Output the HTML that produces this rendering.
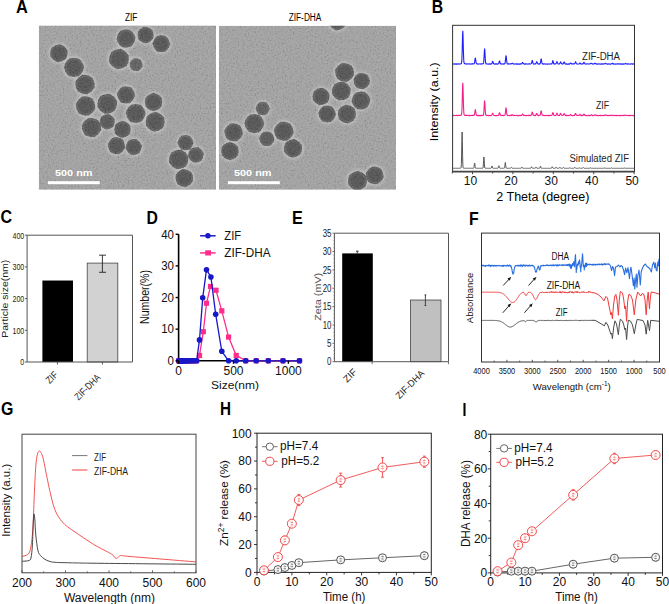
<!DOCTYPE html>
<html><head><meta charset="utf-8"><style>
html,body{margin:0;padding:0;background:#fff;}
svg{display:block;font-family:"Liberation Sans", sans-serif;}
</style></head><body>
<svg width="669" height="604" viewBox="0 0 669 604" style="font-family:"Liberation Sans", sans-serif">
<text x="16" y="12.6" font-size="17.5" text-anchor="start" font-weight="bold" fill="#000" textLength="11.8" lengthAdjust="spacingAndGlyphs" >A</text>
<text x="431.8" y="12.6" font-size="17.5" text-anchor="start" font-weight="bold" fill="#000" textLength="11.4" lengthAdjust="spacingAndGlyphs" >B</text>
<text x="0.6" y="222.8" font-size="17.5" text-anchor="start" font-weight="bold" fill="#000" textLength="11.6" lengthAdjust="spacingAndGlyphs" >C</text>
<text x="146.6" y="223.6" font-size="17.5" text-anchor="start" font-weight="bold" fill="#000" textLength="11.4" lengthAdjust="spacingAndGlyphs" >D</text>
<text x="291.9" y="223.7" font-size="17.5" text-anchor="start" font-weight="bold" fill="#000" textLength="10.8" lengthAdjust="spacingAndGlyphs" >E</text>
<text x="468.9" y="224.8" font-size="17.5" text-anchor="start" font-weight="bold" fill="#000" textLength="9.7" lengthAdjust="spacingAndGlyphs" >F</text>
<text x="1" y="415.3" font-size="17.5" text-anchor="start" font-weight="bold" fill="#000" textLength="12.4" lengthAdjust="spacingAndGlyphs" >G</text>
<text x="220" y="415" font-size="17.5" text-anchor="start" font-weight="bold" fill="#000" textLength="11" lengthAdjust="spacingAndGlyphs" >H</text>
<text x="462.6" y="416.1" font-size="17.5" text-anchor="start" font-weight="bold" fill="#000" textLength="3.9" lengthAdjust="spacingAndGlyphs" >I</text>
<defs>
<filter id="noise" x="0" y="0" width="100%" height="100%"><feTurbulence type="fractalNoise" baseFrequency="0.6" numOctaves="2" seed="3" result="t"/><feGaussianBlur stdDeviation="0.35"/><feColorMatrix type="matrix" values="2 0 0 0 -0.5  2 0 0 0 -0.5  2 0 0 0 -0.5  0 0 0 0 1"/></filter>
<filter id="soft" x="-30%" y="-30%" width="160%" height="160%"><feGaussianBlur stdDeviation="0.75"/></filter>
<filter id="halo" x="-50%" y="-50%" width="200%" height="200%"><feGaussianBlur stdDeviation="1.6"/></filter>
<radialGradient id="pg"><stop offset="0" stop-color="#4a4a4a"/><stop offset="0.7" stop-color="#555555"/><stop offset="1" stop-color="#6c6c6c"/></radialGradient>
<clipPath id="cl"><rect x="38.8" y="25.4" width="177.2" height="164.4"/></clipPath>
<clipPath id="cr"><rect x="218.8" y="25.8" width="177.2" height="164"/></clipPath>
</defs>
<g clip-path="url(#cl)">
<rect x="38.8" y="25.4" width="177.2" height="164.4" fill="#9d9d9d" stroke="none" stroke-width="1" />
<g filter="url(#halo)">
<circle cx="58.9" cy="53.2" r="10.3" fill="#bcbcbc"/>
<circle cx="74" cy="67.4" r="11.3" fill="#bcbcbc"/>
<circle cx="85" cy="84.5" r="11.3" fill="#bcbcbc"/>
<circle cx="85.6" cy="106" r="11.3" fill="#bcbcbc"/>
<circle cx="107.2" cy="103.8" r="11.5" fill="#bcbcbc"/>
<circle cx="119" cy="59" r="11.600000000000001" fill="#bcbcbc"/>
<circle cx="126" cy="38.5" r="10.8" fill="#bcbcbc"/>
<circle cx="126" cy="94.9" r="10.3" fill="#bcbcbc"/>
<circle cx="145.6" cy="35" r="9.600000000000001" fill="#bcbcbc"/>
<circle cx="161.3" cy="43.8" r="10.100000000000001" fill="#bcbcbc"/>
<circle cx="136.1" cy="64.7" r="7.8999999999999995" fill="#bcbcbc"/>
<circle cx="153.6" cy="102" r="10.3" fill="#bcbcbc"/>
<circle cx="135.7" cy="113.5" r="11.200000000000001" fill="#bcbcbc"/>
<circle cx="91.5" cy="127.6" r="11.200000000000001" fill="#bcbcbc"/>
<circle cx="107.2" cy="121.8" r="9.1" fill="#bcbcbc"/>
<circle cx="122.5" cy="129.4" r="9.8" fill="#bcbcbc"/>
<circle cx="116.5" cy="145.7" r="10.100000000000001" fill="#bcbcbc"/>
<circle cx="155.2" cy="121.8" r="11.200000000000001" fill="#bcbcbc"/>
<circle cx="133.7" cy="147" r="9.5" fill="#bcbcbc"/>
<circle cx="185.5" cy="142.7" r="9.200000000000001" fill="#bcbcbc"/>
<circle cx="195.9" cy="154.9" r="9.200000000000001" fill="#bcbcbc"/>
<circle cx="178.7" cy="159.4" r="11.3" fill="#bcbcbc"/>
<circle cx="184.3" cy="178" r="10.4" fill="#bcbcbc"/>
</g><g filter="url(#soft)">
<circle cx="58.9" cy="53.2" r="8.69" fill="#606060"/>
<path d="M65.89,58.73 L57.60,62.02 L50.62,56.48 L51.91,47.67 L60.20,44.38 L67.18,49.92Z" fill="#606060" stroke="#606060" stroke-width="0.4" stroke-linejoin="round"/>
<circle cx="58.9" cy="53.2" r="6.48" fill="#525252" opacity="0.8"/>
<circle cx="74" cy="67.4" r="9.65" fill="#606060"/>
<path d="M83.90,67.66 L78.72,76.10 L68.83,75.84 L64.10,67.14 L69.28,58.70 L79.17,58.96Z" fill="#606060" stroke="#606060" stroke-width="0.4" stroke-linejoin="round"/>
<circle cx="74" cy="67.4" r="7.20" fill="#525252" opacity="0.8"/>
<circle cx="85" cy="84.5" r="9.65" fill="#606060"/>
<path d="M94.49,87.31 L87.31,94.13 L77.82,91.31 L75.51,81.69 L82.69,74.87 L92.18,77.69Z" fill="#606060" stroke="#606060" stroke-width="0.4" stroke-linejoin="round"/>
<circle cx="85" cy="84.5" r="7.20" fill="#525252" opacity="0.8"/>
<circle cx="85.6" cy="106" r="9.65" fill="#606060"/>
<path d="M95.23,108.29 L88.43,115.49 L78.80,113.19 L75.97,103.71 L82.77,96.51 L92.40,98.81Z" fill="#606060" stroke="#606060" stroke-width="0.4" stroke-linejoin="round"/>
<circle cx="85.6" cy="106" r="7.20" fill="#525252" opacity="0.8"/>
<circle cx="107.2" cy="103.8" r="9.84" fill="#606060"/>
<path d="M114.44,110.84 L104.72,113.59 L97.48,106.55 L99.96,96.76 L109.68,94.01 L116.92,101.05Z" fill="#606060" stroke="#606060" stroke-width="0.4" stroke-linejoin="round"/>
<circle cx="107.2" cy="103.8" r="7.34" fill="#525252" opacity="0.8"/>
<circle cx="119" cy="59" r="9.94" fill="#606060"/>
<path d="M126.74,65.64 L117.12,69.02 L109.38,62.39 L111.26,52.36 L120.88,48.98 L128.62,55.61Z" fill="#606060" stroke="#606060" stroke-width="0.4" stroke-linejoin="round"/>
<circle cx="119" cy="59" r="7.42" fill="#525252" opacity="0.8"/>
<circle cx="126" cy="38.5" r="9.17" fill="#606060"/>
<path d="M131.59,46.06 L122.25,47.12 L116.65,39.56 L120.41,30.94 L129.75,29.88 L135.35,37.44Z" fill="#606060" stroke="#606060" stroke-width="0.4" stroke-linejoin="round"/>
<circle cx="126" cy="38.5" r="6.84" fill="#525252" opacity="0.8"/>
<circle cx="126" cy="94.9" r="8.69" fill="#606060"/>
<path d="M134.87,95.71 L129.74,102.99 L120.86,102.18 L117.13,94.09 L122.26,86.81 L131.14,87.62Z" fill="#606060" stroke="#606060" stroke-width="0.4" stroke-linejoin="round"/>
<circle cx="126" cy="94.9" r="6.48" fill="#525252" opacity="0.8"/>
<circle cx="145.6" cy="35" r="8.01" fill="#606060"/>
<path d="M153.03,38.51 L146.27,43.19 L138.84,39.68 L138.17,31.49 L144.93,26.81 L152.36,30.32Z" fill="#606060" stroke="#606060" stroke-width="0.4" stroke-linejoin="round"/>
<circle cx="145.6" cy="35" r="5.98" fill="#535353" opacity="0.8"/>
<circle cx="161.3" cy="43.8" r="8.49" fill="#606060"/>
<path d="M170.01,44.07 L165.42,51.48 L156.71,51.21 L152.59,43.53 L157.18,36.12 L165.89,36.39Z" fill="#606060" stroke="#606060" stroke-width="0.4" stroke-linejoin="round"/>
<circle cx="161.3" cy="43.8" r="6.34" fill="#525252" opacity="0.8"/>
<circle cx="136.1" cy="64.7" r="6.37" fill="#676767"/>
<path d="M142.46,66.18 L138.00,70.95 L131.63,69.47 L129.74,63.22 L134.20,58.45 L140.57,59.93Z" fill="#676767" stroke="#676767" stroke-width="0.4" stroke-linejoin="round"/>
<circle cx="136.1" cy="64.7" r="4.75" fill="#5d5d5d" opacity="0.8"/>
<circle cx="153.6" cy="102" r="8.69" fill="#606060"/>
<path d="M161.29,106.50 L153.55,110.91 L145.86,106.41 L145.91,97.50 L153.65,93.09 L161.34,97.59Z" fill="#606060" stroke="#606060" stroke-width="0.4" stroke-linejoin="round"/>
<circle cx="153.6" cy="102" r="6.48" fill="#525252" opacity="0.8"/>
<circle cx="135.7" cy="113.5" r="9.55" fill="#606060"/>
<path d="M145.50,113.77 L140.36,122.12 L130.57,121.85 L125.90,113.23 L131.04,104.88 L140.83,105.15Z" fill="#606060" stroke="#606060" stroke-width="0.4" stroke-linejoin="round"/>
<circle cx="135.7" cy="113.5" r="7.13" fill="#525252" opacity="0.8"/>
<circle cx="91.5" cy="127.6" r="9.55" fill="#606060"/>
<path d="M101.09,129.63 L94.54,136.92 L84.95,134.89 L81.91,125.57 L88.46,118.28 L98.05,120.31Z" fill="#606060" stroke="#606060" stroke-width="0.4" stroke-linejoin="round"/>
<circle cx="91.5" cy="127.6" r="7.13" fill="#525252" opacity="0.8"/>
<circle cx="107.2" cy="121.8" r="7.53" fill="#626262"/>
<path d="M113.20,126.66 L105.99,129.43 L99.99,124.57 L101.20,116.94 L108.41,114.17 L114.41,119.03Z" fill="#626262" stroke="#626262" stroke-width="0.4" stroke-linejoin="round"/>
<circle cx="107.2" cy="121.8" r="5.62" fill="#565656" opacity="0.8"/>
<circle cx="122.5" cy="129.4" r="8.20" fill="#606060"/>
<path d="M129.58,133.95 L122.10,137.81 L115.02,133.26 L115.42,124.85 L122.90,120.99 L129.98,125.54Z" fill="#606060" stroke="#606060" stroke-width="0.4" stroke-linejoin="round"/>
<circle cx="122.5" cy="129.4" r="6.12" fill="#525252" opacity="0.8"/>
<circle cx="116.5" cy="145.7" r="8.49" fill="#606060"/>
<path d="M124.98,147.69 L119.01,154.04 L110.53,152.05 L108.02,143.71 L113.99,137.36 L122.47,139.35Z" fill="#606060" stroke="#606060" stroke-width="0.4" stroke-linejoin="round"/>
<circle cx="116.5" cy="145.7" r="6.34" fill="#525252" opacity="0.8"/>
<circle cx="155.2" cy="121.8" r="9.55" fill="#606060"/>
<path d="M163.19,127.47 L154.29,131.56 L146.29,125.89 L147.21,116.13 L156.11,112.04 L164.11,117.71Z" fill="#606060" stroke="#606060" stroke-width="0.4" stroke-linejoin="round"/>
<circle cx="155.2" cy="121.8" r="7.13" fill="#525252" opacity="0.8"/>
<circle cx="133.7" cy="147" r="7.91" fill="#616161"/>
<path d="M139.07,153.09 L131.12,154.70 L125.74,148.61 L128.33,140.91 L136.28,139.30 L141.66,145.39Z" fill="#616161" stroke="#616161" stroke-width="0.4" stroke-linejoin="round"/>
<circle cx="133.7" cy="147" r="5.90" fill="#535353" opacity="0.8"/>
<circle cx="185.5" cy="142.7" r="7.62" fill="#626262"/>
<path d="M193.32,142.75 L189.36,149.50 L181.54,149.45 L177.68,142.65 L181.64,135.90 L189.46,135.95Z" fill="#626262" stroke="#626262" stroke-width="0.4" stroke-linejoin="round"/>
<circle cx="185.5" cy="142.7" r="5.69" fill="#555555" opacity="0.8"/>
<circle cx="195.9" cy="154.9" r="7.62" fill="#626262"/>
<path d="M201.10,160.74 L193.44,162.32 L188.24,156.48 L190.70,149.06 L198.36,147.48 L203.56,153.32Z" fill="#626262" stroke="#626262" stroke-width="0.4" stroke-linejoin="round"/>
<circle cx="195.9" cy="154.9" r="5.69" fill="#555555" opacity="0.8"/>
<circle cx="178.7" cy="159.4" r="9.65" fill="#606060"/>
<path d="M186.07,166.01 L176.66,169.09 L169.29,162.48 L171.33,152.79 L180.74,149.71 L188.11,156.32Z" fill="#606060" stroke="#606060" stroke-width="0.4" stroke-linejoin="round"/>
<circle cx="178.7" cy="159.4" r="7.20" fill="#525252" opacity="0.8"/>
<circle cx="184.3" cy="178" r="8.78" fill="#606060"/>
<path d="M192.74,181.14 L185.80,186.88 L177.36,183.74 L175.86,174.86 L182.80,169.12 L191.24,172.26Z" fill="#606060" stroke="#606060" stroke-width="0.4" stroke-linejoin="round"/>
<circle cx="184.3" cy="178" r="6.55" fill="#525252" opacity="0.8"/>
</g>
<rect x="38.8" y="25.4" width="177.2" height="164.4" fill="#fff" stroke="none" stroke-width="1" filter="url(#noise)" opacity="0.14" style="mix-blend-mode:overlay"/>
</g>
<g clip-path="url(#cr)">
<rect x="218.8" y="25.8" width="177.2" height="164" fill="#9d9d9d" stroke="none" stroke-width="1" />
<g filter="url(#halo)">
<circle cx="337.5" cy="22" r="9.8" fill="#bcbcbc"/>
<circle cx="262.7" cy="108.5" r="8.3" fill="#bcbcbc"/>
<circle cx="344.6" cy="72.4" r="11.0" fill="#bcbcbc"/>
<circle cx="361.7" cy="81" r="9.600000000000001" fill="#bcbcbc"/>
<circle cx="341.3" cy="91" r="11.0" fill="#bcbcbc"/>
<circle cx="321" cy="96.6" r="10.100000000000001" fill="#bcbcbc"/>
<circle cx="361" cy="100.5" r="10.700000000000001" fill="#bcbcbc"/>
<circle cx="327.1" cy="114" r="10.100000000000001" fill="#bcbcbc"/>
<circle cx="346.9" cy="114" r="10.700000000000001" fill="#bcbcbc"/>
<circle cx="254.3" cy="123.6" r="11.200000000000001" fill="#bcbcbc"/>
<circle cx="233.6" cy="132.3" r="10.700000000000001" fill="#bcbcbc"/>
<circle cx="229.9" cy="151" r="10.4" fill="#bcbcbc"/>
<circle cx="266.8" cy="138.8" r="8.9" fill="#bcbcbc"/>
<circle cx="283.8" cy="131.2" r="11.200000000000001" fill="#bcbcbc"/>
<circle cx="293" cy="148.4" r="10.700000000000001" fill="#bcbcbc"/>
<circle cx="357.5" cy="180.7" r="11.200000000000001" fill="#bcbcbc"/>
<circle cx="374.7" cy="175.4" r="10.4" fill="#bcbcbc"/>
</g><g filter="url(#soft)">
<circle cx="337.5" cy="22" r="8.20" fill="#606060"/>
<path d="M344.10,27.22 L336.28,30.33 L329.68,25.10 L330.90,16.78 L338.72,13.67 L345.32,18.90Z" fill="#606060" stroke="#606060" stroke-width="0.4" stroke-linejoin="round"/>
<circle cx="337.5" cy="22" r="6.12" fill="#525252" opacity="0.8"/>
<circle cx="262.7" cy="108.5" r="6.75" fill="#666666"/>
<path d="M269.63,108.68 L266.01,114.59 L259.08,114.41 L255.77,108.32 L259.39,102.41 L266.32,102.59Z" fill="#666666" stroke="#666666" stroke-width="0.4" stroke-linejoin="round"/>
<circle cx="262.7" cy="108.5" r="5.04" fill="#5b5b5b" opacity="0.8"/>
<circle cx="344.6" cy="72.4" r="9.36" fill="#606060"/>
<path d="M353.81,75.13 L346.84,81.74 L337.63,79.01 L335.39,69.67 L342.36,63.06 L351.57,65.79Z" fill="#606060" stroke="#606060" stroke-width="0.4" stroke-linejoin="round"/>
<circle cx="344.6" cy="72.4" r="6.98" fill="#525252" opacity="0.8"/>
<circle cx="361.7" cy="81" r="8.01" fill="#606060"/>
<path d="M369.69,82.90 L364.05,88.87 L356.05,86.97 L353.71,79.10 L359.35,73.13 L367.35,75.03Z" fill="#606060" stroke="#606060" stroke-width="0.4" stroke-linejoin="round"/>
<circle cx="361.7" cy="81" r="5.98" fill="#535353" opacity="0.8"/>
<circle cx="341.3" cy="91" r="9.36" fill="#606060"/>
<path d="M348.19,97.69 L338.95,100.31 L332.06,93.62 L334.41,84.31 L343.65,81.69 L350.54,88.38Z" fill="#606060" stroke="#606060" stroke-width="0.4" stroke-linejoin="round"/>
<circle cx="341.3" cy="91" r="6.98" fill="#525252" opacity="0.8"/>
<circle cx="321" cy="96.6" r="8.49" fill="#606060"/>
<path d="M327.61,102.27 L319.40,105.16 L312.78,99.49 L314.39,90.93 L322.60,88.04 L329.22,93.71Z" fill="#606060" stroke="#606060" stroke-width="0.4" stroke-linejoin="round"/>
<circle cx="321" cy="96.6" r="6.34" fill="#525252" opacity="0.8"/>
<circle cx="361" cy="100.5" r="9.07" fill="#606060"/>
<path d="M366.53,107.98 L357.28,109.03 L351.75,101.55 L355.47,93.02 L364.72,91.97 L370.25,99.45Z" fill="#606060" stroke="#606060" stroke-width="0.4" stroke-linejoin="round"/>
<circle cx="361" cy="100.5" r="6.77" fill="#525252" opacity="0.8"/>
<circle cx="327.1" cy="114" r="8.49" fill="#606060"/>
<path d="M335.78,114.79 L330.75,121.91 L322.08,121.12 L318.42,113.21 L323.45,106.09 L332.12,106.88Z" fill="#606060" stroke="#606060" stroke-width="0.4" stroke-linejoin="round"/>
<circle cx="327.1" cy="114" r="6.34" fill="#525252" opacity="0.8"/>
<circle cx="346.9" cy="114" r="9.07" fill="#606060"/>
<path d="M355.31,117.98 L347.66,123.27 L339.25,119.30 L338.49,110.02 L346.14,104.73 L354.55,108.70Z" fill="#606060" stroke="#606060" stroke-width="0.4" stroke-linejoin="round"/>
<circle cx="346.9" cy="114" r="6.77" fill="#525252" opacity="0.8"/>
<circle cx="254.3" cy="123.6" r="9.55" fill="#606060"/>
<path d="M264.10,123.91 L258.93,132.24 L249.14,131.93 L244.50,123.29 L249.67,114.96 L259.46,115.27Z" fill="#606060" stroke="#606060" stroke-width="0.4" stroke-linejoin="round"/>
<circle cx="254.3" cy="123.6" r="7.13" fill="#525252" opacity="0.8"/>
<circle cx="233.6" cy="132.3" r="9.07" fill="#606060"/>
<path d="M242.66,134.41 L236.30,141.20 L227.24,139.09 L224.54,130.19 L230.90,123.40 L239.96,125.51Z" fill="#606060" stroke="#606060" stroke-width="0.4" stroke-linejoin="round"/>
<circle cx="233.6" cy="132.3" r="6.77" fill="#525252" opacity="0.8"/>
<circle cx="229.9" cy="151" r="8.78" fill="#606060"/>
<path d="M237.68,155.55 L229.85,160.01 L222.07,155.46 L222.12,146.45 L229.95,141.99 L237.73,146.54Z" fill="#606060" stroke="#606060" stroke-width="0.4" stroke-linejoin="round"/>
<circle cx="229.9" cy="151" r="6.55" fill="#525252" opacity="0.8"/>
<circle cx="266.8" cy="138.8" r="7.33" fill="#636363"/>
<path d="M274.32,139.01 L270.38,145.42 L262.86,145.21 L259.28,138.59 L263.22,132.18 L270.74,132.39Z" fill="#636363" stroke="#636363" stroke-width="0.4" stroke-linejoin="round"/>
<circle cx="266.8" cy="138.8" r="5.47" fill="#575757" opacity="0.8"/>
<circle cx="283.8" cy="131.2" r="9.55" fill="#606060"/>
<path d="M293.39,133.23 L286.84,140.52 L277.25,138.49 L274.21,129.17 L280.76,121.88 L290.35,123.91Z" fill="#606060" stroke="#606060" stroke-width="0.4" stroke-linejoin="round"/>
<circle cx="283.8" cy="131.2" r="7.13" fill="#525252" opacity="0.8"/>
<circle cx="293" cy="148.4" r="9.07" fill="#606060"/>
<path d="M300.23,154.26 L291.55,157.59 L284.31,151.74 L285.77,142.54 L294.45,139.21 L301.69,145.06Z" fill="#606060" stroke="#606060" stroke-width="0.4" stroke-linejoin="round"/>
<circle cx="293" cy="148.4" r="6.77" fill="#525252" opacity="0.8"/>
<circle cx="357.5" cy="180.7" r="9.55" fill="#606060"/>
<path d="M365.75,185.99 L357.04,190.49 L348.79,185.20 L349.25,175.41 L357.96,170.91 L366.21,176.20Z" fill="#606060" stroke="#606060" stroke-width="0.4" stroke-linejoin="round"/>
<circle cx="357.5" cy="180.7" r="7.13" fill="#525252" opacity="0.8"/>
<circle cx="374.7" cy="175.4" r="8.78" fill="#606060"/>
<path d="M383.47,177.46 L377.30,184.03 L368.53,181.96 L365.93,173.34 L372.10,166.77 L380.87,168.84Z" fill="#606060" stroke="#606060" stroke-width="0.4" stroke-linejoin="round"/>
<circle cx="374.7" cy="175.4" r="6.55" fill="#525252" opacity="0.8"/>
</g>
<rect x="218.8" y="25.8" width="177.2" height="164" fill="#fff" stroke="none" stroke-width="1" filter="url(#noise)" opacity="0.14" style="mix-blend-mode:overlay"/>
</g>
<rect x="47.9" y="181.2" width="51.8" height="3" fill="#fff" stroke="none" stroke-width="1" />
<text x="55" y="176" font-size="9.5" text-anchor="start" font-weight="bold" fill="#fff" textLength="37.5" lengthAdjust="spacingAndGlyphs" >500 nm</text>
<rect x="228" y="181.2" width="51.8" height="3" fill="#fff" stroke="none" stroke-width="1" />
<text x="234" y="176" font-size="9.5" text-anchor="start" font-weight="bold" fill="#fff" textLength="37.5" lengthAdjust="spacingAndGlyphs" >500 nm</text>
<text x="125" y="20.8" font-size="10" text-anchor="start" font-weight="normal" fill="#000" textLength="12.4" lengthAdjust="spacingAndGlyphs" >ZIF</text>
<text x="288.7" y="20.8" font-size="10" text-anchor="start" font-weight="normal" fill="#000" textLength="32.7" lengthAdjust="spacingAndGlyphs" >ZIF-DHA</text>
<path d="M452.60,64.14 L452.85,63.85 L453.10,63.88 L453.35,64.09 L453.60,63.99 L453.85,64.01 L454.10,63.93 L454.35,63.87 L454.60,64.15 L454.85,64.17 L455.10,63.85 L455.35,64.01 L455.60,63.88 L455.85,64.18 L456.10,64.00 L456.35,63.89 L456.60,64.08 L456.85,63.79 L457.10,63.81 L457.35,64.16 L457.60,64.15 L457.85,63.94 L458.10,63.78 L458.35,64.00 L458.60,64.06 L458.86,63.97 L459.11,64.12 L459.36,64.03 L459.61,63.94 L459.86,63.90 L460.11,63.98 L460.36,63.96 L460.61,63.93 L460.86,63.78 L461.11,63.76 L461.36,63.63 L461.61,62.44 L461.86,59.85 L462.11,53.49 L462.36,43.53 L462.61,33.39 L462.86,31.04 L463.11,38.49 L463.36,49.20 L463.61,57.35 L463.86,61.56 L464.11,62.99 L464.36,63.63 L464.61,63.60 L464.86,63.73 L465.11,63.91 L465.36,63.83 L465.61,63.73 L465.86,63.76 L466.11,63.91 L466.36,63.89 L466.61,64.12 L466.86,64.04 L467.11,63.83 L467.36,63.99 L467.61,64.09 L467.86,63.94 L468.11,63.88 L468.36,63.90 L468.61,64.02 L468.86,63.99 L469.11,63.97 L469.36,63.86 L469.61,63.96 L469.86,64.02 L470.11,63.98 L470.36,64.16 L470.61,64.16 L470.87,63.89 L471.12,63.78 L471.37,63.94 L471.62,64.02 L471.87,64.10 L472.12,63.97 L472.37,63.78 L472.62,63.86 L472.87,63.94 L473.12,63.81 L473.37,64.05 L473.62,63.93 L473.87,63.71 L474.12,63.71 L474.37,63.29 L474.62,62.25 L474.87,60.30 L475.12,58.29 L475.37,58.13 L475.62,59.06 L475.87,61.03 L476.12,62.57 L476.37,63.43 L476.62,63.70 L476.87,63.90 L477.12,63.91 L477.37,63.98 L477.62,64.13 L477.87,63.81 L478.12,63.94 L478.37,64.09 L478.62,63.97 L478.87,63.98 L479.12,64.03 L479.37,64.03 L479.62,63.95 L479.87,63.92 L480.12,63.92 L480.37,63.98 L480.62,64.15 L480.87,64.07 L481.12,64.09 L481.37,63.92 L481.62,63.80 L481.87,63.82 L482.12,63.81 L482.37,63.79 L482.62,63.99 L482.87,63.72 L483.13,63.70 L483.38,63.62 L483.63,62.63 L483.88,60.09 L484.13,55.38 L484.38,50.78 L484.63,48.86 L484.88,51.24 L485.13,56.28 L485.38,60.56 L485.63,62.80 L485.88,63.52 L486.13,63.92 L486.38,63.96 L486.63,63.81 L486.88,63.93 L487.13,64.00 L487.38,63.95 L487.63,64.14 L487.88,64.00 L488.13,63.99 L488.38,64.09 L488.63,64.12 L488.88,63.81 L489.13,63.97 L489.38,64.09 L489.63,63.93 L489.88,63.85 L490.13,64.16 L490.38,64.16 L490.63,64.11 L490.88,63.88 L491.13,64.09 L491.38,63.84 L491.63,63.73 L491.88,63.45 L492.13,62.95 L492.38,61.83 L492.63,61.39 L492.88,61.72 L493.13,62.59 L493.38,63.17 L493.63,63.73 L493.88,63.86 L494.13,64.02 L494.38,63.91 L494.63,64.15 L494.88,64.06 L495.14,63.79 L495.39,63.83 L495.64,64.06 L495.89,63.84 L496.14,64.06 L496.39,63.80 L496.64,63.88 L496.89,64.01 L497.14,64.07 L497.39,64.17 L497.64,63.82 L497.89,64.15 L498.14,63.81 L498.39,63.67 L498.64,63.56 L498.89,63.13 L499.14,61.92 L499.39,61.01 L499.64,60.96 L499.89,61.73 L500.14,62.75 L500.39,63.49 L500.64,63.91 L500.89,63.85 L501.14,63.98 L501.39,64.08 L501.64,64.12 L501.89,63.90 L502.14,64.05 L502.39,63.97 L502.64,64.04 L502.89,63.82 L503.14,63.80 L503.39,64.15 L503.64,64.07 L503.89,64.01 L504.14,63.74 L504.39,63.79 L504.64,63.89 L504.89,63.65 L505.14,62.61 L505.39,60.69 L505.64,57.97 L505.89,56.00 L506.14,55.77 L506.39,58.05 L506.64,60.82 L506.89,62.47 L507.14,63.64 L507.40,63.73 L507.65,64.07 L507.90,64.07 L508.15,63.78 L508.40,64.07 L508.65,63.86 L508.90,63.93 L509.15,63.83 L509.40,64.03 L509.65,64.04 L509.90,64.06 L510.15,63.83 L510.40,63.94 L510.65,63.79 L510.90,63.80 L511.15,64.03 L511.40,63.71 L511.65,63.65 L511.90,63.44 L512.15,63.37 L512.40,63.23 L512.65,63.52 L512.90,63.70 L513.15,64.00 L513.40,63.93 L513.65,63.87 L513.90,64.04 L514.15,63.96 L514.40,64.10 L514.65,64.16 L514.90,64.08 L515.15,63.84 L515.40,63.97 L515.65,63.82 L515.90,64.01 L516.15,64.08 L516.40,63.88 L516.65,63.86 L516.90,64.19 L517.15,63.93 L517.40,64.16 L517.65,64.15 L517.90,63.84 L518.15,64.18 L518.40,64.10 L518.65,63.80 L518.90,64.02 L519.15,64.15 L519.41,64.12 L519.66,64.09 L519.91,63.89 L520.16,64.15 L520.41,63.82 L520.66,64.03 L520.91,63.79 L521.16,63.80 L521.41,64.01 L521.66,63.89 L521.91,63.49 L522.16,63.15 L522.41,62.46 L522.66,62.60 L522.91,62.97 L523.16,63.10 L523.41,63.77 L523.66,63.85 L523.91,63.98 L524.16,64.05 L524.41,64.16 L524.66,63.82 L524.91,63.80 L525.16,63.80 L525.41,64.15 L525.66,64.10 L525.91,63.94 L526.16,63.80 L526.41,63.97 L526.66,63.92 L526.91,63.93 L527.16,64.09 L527.41,63.97 L527.66,64.07 L527.91,64.09 L528.16,64.16 L528.41,64.08 L528.66,63.79 L528.91,64.01 L529.16,63.92 L529.41,63.93 L529.66,63.81 L529.91,64.02 L530.16,64.05 L530.41,64.04 L530.66,64.03 L530.91,63.78 L531.16,63.63 L531.41,63.48 L531.67,62.65 L531.92,61.41 L532.17,60.48 L532.42,60.52 L532.67,61.63 L532.92,62.87 L533.17,63.55 L533.42,63.97 L533.67,63.90 L533.92,64.12 L534.17,64.13 L534.42,63.91 L534.67,64.05 L534.92,63.85 L535.17,63.96 L535.42,63.78 L535.67,63.96 L535.92,63.53 L536.17,62.85 L536.42,62.42 L536.67,61.62 L536.92,62.12 L537.17,62.55 L537.42,63.12 L537.67,63.59 L537.92,63.96 L538.17,64.10 L538.42,63.95 L538.67,63.79 L538.92,64.04 L539.17,63.80 L539.42,64.09 L539.67,63.75 L539.92,64.01 L540.17,63.58 L540.42,62.55 L540.67,61.18 L540.92,59.55 L541.17,58.86 L541.42,59.67 L541.67,61.29 L541.92,62.89 L542.17,63.56 L542.42,63.97 L542.67,63.84 L542.92,63.89 L543.17,64.06 L543.42,64.14 L543.68,63.79 L543.93,63.85 L544.18,63.96 L544.43,63.97 L544.68,63.84 L544.93,64.00 L545.18,64.03 L545.43,64.05 L545.68,64.09 L545.93,64.18 L546.18,63.93 L546.43,64.02 L546.68,63.96 L546.93,64.17 L547.18,64.05 L547.43,64.14 L547.68,64.14 L547.93,64.09 L548.18,63.86 L548.43,64.03 L548.68,64.03 L548.93,63.94 L549.18,64.09 L549.43,64.18 L549.68,63.97 L549.93,63.98 L550.18,63.92 L550.43,64.01 L550.68,63.90 L550.93,63.88 L551.18,64.07 L551.43,63.94 L551.68,63.87 L551.93,63.73 L552.18,63.08 L552.43,62.06 L552.68,60.95 L552.93,60.64 L553.18,61.54 L553.43,62.43 L553.68,63.50 L553.93,63.92 L554.18,63.90 L554.43,63.79 L554.68,64.09 L554.93,63.85 L555.18,63.81 L555.43,64.02 L555.69,63.82 L555.94,63.61 L556.19,63.41 L556.44,62.59 L556.69,61.82 L556.94,61.55 L557.19,61.84 L557.44,62.59 L557.69,63.22 L557.94,63.74 L558.19,64.04 L558.44,64.05 L558.69,64.07 L558.94,63.93 L559.19,63.83 L559.44,64.04 L559.69,63.56 L559.94,63.06 L560.19,62.50 L560.44,61.86 L560.69,62.02 L560.94,62.37 L561.19,63.35 L561.44,63.45 L561.69,63.74 L561.94,63.89 L562.19,64.05 L562.44,63.80 L562.69,63.77 L562.94,64.07 L563.19,63.69 L563.44,63.36 L563.69,62.87 L563.94,62.22 L564.19,62.01 L564.44,62.11 L564.69,62.73 L564.94,63.53 L565.19,63.68 L565.44,63.95 L565.69,64.10 L565.94,64.05 L566.19,64.13 L566.44,63.82 L566.69,63.80 L566.94,64.14 L567.19,63.95 L567.44,64.02 L567.69,64.14 L567.95,64.07 L568.20,64.09 L568.45,63.89 L568.70,64.18 L568.95,64.11 L569.20,64.00 L569.45,64.15 L569.70,63.83 L569.95,63.67 L570.20,63.28 L570.45,63.22 L570.70,63.08 L570.95,63.17 L571.20,63.60 L571.45,63.74 L571.70,64.01 L571.95,63.89 L572.20,63.86 L572.45,63.86 L572.70,63.79 L572.95,63.96 L573.20,63.99 L573.45,63.84 L573.70,63.87 L573.95,63.94 L574.20,63.98 L574.45,63.92 L574.70,63.70 L574.95,62.86 L575.20,62.42 L575.45,61.71 L575.70,61.98 L575.95,62.47 L576.20,63.22 L576.45,63.54 L576.70,64.05 L576.95,63.96 L577.20,63.94 L577.45,64.05 L577.70,63.98 L577.95,64.04 L578.20,63.97 L578.45,64.18 L578.70,63.98 L578.95,63.92 L579.20,63.82 L579.45,63.50 L579.70,63.03 L579.96,62.92 L580.21,63.15 L580.46,63.41 L580.71,63.79 L580.96,64.02 L581.21,64.16 L581.46,64.07 L581.71,63.94 L581.96,63.83 L582.21,63.85 L582.46,63.97 L582.71,63.75 L582.96,63.88 L583.21,63.50 L583.46,63.25 L583.71,62.60 L583.96,62.21 L584.21,62.66 L584.46,63.21 L584.71,63.50 L584.96,63.81 L585.21,63.99 L585.46,64.17 L585.71,64.03 L585.96,64.02 L586.21,64.03 L586.46,63.85 L586.71,63.96 L586.96,63.90 L587.21,63.83 L587.46,63.89 L587.71,64.00 L587.96,63.89 L588.21,63.94 L588.46,63.93 L588.71,63.94 L588.96,64.03 L589.21,63.94 L589.46,63.94 L589.71,63.81 L589.96,63.86 L590.21,63.80 L590.46,63.72 L590.71,63.50 L590.96,63.32 L591.21,63.26 L591.46,63.37 L591.71,63.43 L591.96,63.61 L592.22,63.88 L592.47,64.10 L592.72,63.85 L592.97,63.99 L593.22,64.00 L593.47,64.16 L593.72,63.96 L593.97,63.80 L594.22,63.77 L594.47,63.56 L594.72,63.20 L594.97,63.40 L595.22,63.38 L595.47,63.46 L595.72,63.76 L595.97,63.98 L596.22,63.90 L596.47,63.95 L596.72,64.11 L596.97,64.11 L597.22,63.84 L597.47,64.09 L597.72,64.17 L597.97,63.86 L598.22,63.99 L598.47,64.05 L598.72,63.99 L598.97,63.90 L599.22,64.13 L599.47,63.94 L599.72,63.91 L599.97,63.87 L600.22,64.09 L600.47,63.95 L600.72,64.10 L600.97,63.97 L601.22,64.13 L601.47,63.88 L601.72,63.85 L601.97,64.07 L602.22,64.11 L602.47,63.81 L602.72,63.91 L602.97,63.86 L603.22,64.18 L603.47,63.83 L603.72,63.94 L603.97,64.06 L604.23,64.00 L604.48,63.82 L604.73,63.69 L604.98,63.75 L605.23,63.40 L605.48,63.54 L605.73,63.35 L605.98,63.76 L606.23,63.72 L606.48,63.87 L606.73,63.94 L606.98,64.09 L607.23,63.98 L607.48,64.14 L607.73,64.14 L607.98,63.91 L608.23,64.05 L608.48,63.90 L608.73,64.10 L608.98,63.91 L609.23,63.91 L609.48,64.07 L609.73,64.15 L609.98,64.04 L610.23,64.00 L610.48,64.15 L610.73,64.12 L610.98,64.16 L611.23,63.91 L611.48,63.71 L611.73,63.82 L611.98,63.70 L612.23,63.32 L612.48,63.34 L612.73,63.46 L612.98,63.78 L613.23,64.00 L613.48,63.84 L613.73,64.14 L613.98,63.92 L614.23,64.16 L614.48,64.04 L614.73,64.00 L614.98,64.05 L615.23,64.13 L615.48,64.10 L615.73,63.87 L615.98,64.01 L616.23,63.97 L616.49,64.11 L616.74,63.91 L616.99,64.07 L617.24,63.96 L617.49,63.83 L617.74,63.80 L617.99,64.18 L618.24,63.88 L618.49,63.86 L618.74,64.07 L618.99,64.05 L619.24,63.97 L619.49,63.83 L619.74,64.04 L619.99,63.85 L620.24,63.90 L620.49,64.14 L620.74,63.83 L620.99,64.19 L621.24,64.14 L621.49,63.93 L621.74,64.18 L621.99,64.05 L622.24,64.15 L622.49,64.01 L622.74,63.86 L622.99,63.83 L623.24,64.18 L623.49,64.17 L623.74,63.86 L623.99,64.16 L624.24,64.03 L624.49,64.01 L624.74,63.87 L624.99,63.74 L625.24,63.45 L625.49,63.50 L625.74,63.69 L625.99,63.75 L626.24,63.90 L626.49,64.03 L626.74,63.94 L626.99,63.81 L627.24,63.94 L627.49,64.10 L627.74,64.17 L627.99,63.82 L628.24,63.96 L628.50,64.06 L628.75,63.96 L629.00,63.97 L629.25,63.99 L629.50,64.17 L629.75,64.06 L630.00,64.03 L630.25,64.12 L630.50,63.85 L630.75,64.03 L631.00,63.93 L631.25,63.91 L631.50,63.90 L631.75,63.91 L632.00,63.90 L632.25,64.10 L632.50,63.81 L632.75,64.14 L633.00,63.83 L633.25,63.86 L633.50,63.86 L633.75,64.18 L634.00,64.16 L634.25,63.87 L634.50,64.01" stroke="#2020ff" stroke-width="1.1" fill="none" stroke-linejoin="round" />
<path d="M452.60,115.31 L452.85,115.31 L453.10,115.67 L453.35,115.65 L453.60,115.35 L453.85,115.39 L454.10,115.42 L454.35,115.56 L454.60,115.44 L454.85,115.44 L455.10,115.45 L455.35,115.62 L455.60,115.51 L455.85,115.52 L456.10,115.39 L456.35,115.28 L456.60,115.30 L456.85,115.46 L457.10,115.49 L457.35,115.56 L457.60,115.65 L457.85,115.65 L458.10,115.47 L458.35,115.53 L458.60,115.50 L458.86,115.28 L459.11,115.42 L459.36,115.40 L459.61,115.52 L459.86,115.59 L460.11,115.45 L460.36,115.50 L460.61,115.32 L460.86,115.07 L461.11,115.12 L461.36,115.07 L461.61,113.94 L461.86,111.31 L462.11,105.11 L462.36,95.05 L462.61,85.44 L462.86,83.06 L463.11,90.28 L463.36,100.67 L463.61,108.86 L463.86,113.31 L464.11,114.57 L464.36,115.02 L464.61,115.25 L464.86,115.29 L465.11,115.34 L465.36,115.20 L465.61,115.39 L465.86,115.27 L466.11,115.48 L466.36,115.27 L466.61,115.28 L466.86,115.46 L467.11,115.42 L467.36,115.28 L467.61,115.37 L467.86,115.47 L468.11,115.57 L468.36,115.54 L468.61,115.39 L468.86,115.60 L469.11,115.31 L469.36,115.57 L469.61,115.31 L469.86,115.55 L470.11,115.29 L470.36,115.39 L470.61,115.47 L470.87,115.47 L471.12,115.41 L471.37,115.44 L471.62,115.55 L471.87,115.59 L472.12,115.47 L472.37,115.30 L472.62,115.42 L472.87,115.63 L473.12,115.33 L473.37,115.36 L473.62,115.27 L473.87,115.52 L474.12,115.16 L474.37,114.98 L474.62,113.68 L474.87,112.09 L475.12,110.36 L475.37,109.59 L475.62,111.07 L475.87,112.79 L476.12,114.14 L476.37,115.15 L476.62,115.45 L476.87,115.26 L477.12,115.47 L477.37,115.36 L477.62,115.65 L477.87,115.52 L478.12,115.60 L478.37,115.40 L478.62,115.64 L478.87,115.29 L479.12,115.66 L479.37,115.38 L479.62,115.66 L479.87,115.57 L480.12,115.34 L480.37,115.60 L480.62,115.59 L480.87,115.39 L481.12,115.50 L481.37,115.64 L481.62,115.25 L481.87,115.58 L482.12,115.62 L482.37,115.48 L482.62,115.35 L482.87,115.27 L483.13,115.43 L483.38,115.05 L483.63,114.20 L483.88,111.62 L484.13,107.30 L484.38,102.75 L484.63,100.81 L484.88,103.33 L485.13,107.96 L485.38,111.99 L485.63,114.24 L485.88,115.16 L486.13,115.24 L486.38,115.45 L486.63,115.56 L486.88,115.44 L487.13,115.28 L487.38,115.59 L487.63,115.42 L487.88,115.50 L488.13,115.46 L488.38,115.61 L488.63,115.28 L488.88,115.57 L489.13,115.43 L489.38,115.50 L489.63,115.67 L489.88,115.45 L490.13,115.62 L490.38,115.65 L490.63,115.66 L490.88,115.60 L491.13,115.62 L491.38,115.37 L491.63,115.31 L491.88,114.81 L492.13,114.22 L492.38,113.42 L492.63,113.24 L492.88,113.36 L493.13,114.15 L493.38,114.73 L493.63,115.16 L493.88,115.27 L494.13,115.37 L494.38,115.56 L494.63,115.50 L494.88,115.47 L495.14,115.68 L495.39,115.67 L495.64,115.52 L495.89,115.64 L496.14,115.39 L496.39,115.58 L496.64,115.64 L496.89,115.61 L497.14,115.58 L497.39,115.59 L497.64,115.46 L497.89,115.48 L498.14,115.52 L498.39,115.30 L498.64,115.23 L498.89,114.38 L499.14,113.48 L499.39,112.75 L499.64,112.72 L499.89,113.34 L500.14,114.24 L500.39,115.14 L500.64,115.33 L500.89,115.41 L501.14,115.58 L501.39,115.63 L501.64,115.35 L501.89,115.52 L502.14,115.46 L502.39,115.30 L502.64,115.43 L502.89,115.55 L503.14,115.27 L503.39,115.51 L503.64,115.65 L503.89,115.37 L504.14,115.59 L504.39,115.49 L504.64,115.20 L504.89,114.99 L505.14,114.44 L505.39,112.51 L505.64,109.97 L505.89,107.85 L506.14,107.95 L506.39,109.88 L506.64,112.64 L506.89,114.32 L507.14,115.10 L507.40,115.16 L507.65,115.58 L507.90,115.33 L508.15,115.57 L508.40,115.43 L508.65,115.51 L508.90,115.48 L509.15,115.37 L509.40,115.52 L509.65,115.63 L509.90,115.63 L510.15,115.65 L510.40,115.34 L510.65,115.42 L510.90,115.27 L511.15,115.32 L511.40,115.44 L511.65,114.95 L511.90,114.68 L512.15,114.65 L512.40,114.91 L512.65,115.21 L512.90,115.36 L513.15,115.32 L513.40,115.57 L513.65,115.47 L513.90,115.50 L514.15,115.31 L514.40,115.37 L514.65,115.32 L514.90,115.36 L515.15,115.57 L515.40,115.60 L515.65,115.50 L515.90,115.59 L516.15,115.52 L516.40,115.42 L516.65,115.33 L516.90,115.46 L517.15,115.37 L517.40,115.66 L517.65,115.55 L517.90,115.29 L518.15,115.64 L518.40,115.53 L518.65,115.67 L518.90,115.66 L519.15,115.33 L519.41,115.30 L519.66,115.43 L519.91,115.64 L520.16,115.57 L520.41,115.60 L520.66,115.42 L520.91,115.41 L521.16,115.49 L521.41,115.42 L521.66,115.46 L521.91,114.99 L522.16,114.36 L522.41,113.99 L522.66,114.16 L522.91,114.33 L523.16,114.74 L523.41,115.30 L523.66,115.23 L523.91,115.47 L524.16,115.40 L524.41,115.52 L524.66,115.29 L524.91,115.38 L525.16,115.46 L525.41,115.63 L525.66,115.51 L525.91,115.68 L526.16,115.45 L526.41,115.34 L526.66,115.62 L526.91,115.49 L527.16,115.50 L527.41,115.53 L527.66,115.41 L527.91,115.32 L528.16,115.41 L528.41,115.50 L528.66,115.30 L528.91,115.56 L529.16,115.39 L529.41,115.42 L529.66,115.38 L529.91,115.34 L530.16,115.59 L530.41,115.42 L530.66,115.50 L530.91,115.36 L531.16,115.11 L531.41,114.88 L531.67,114.35 L531.92,113.07 L532.17,112.10 L532.42,112.08 L532.67,113.09 L532.92,114.11 L533.17,115.17 L533.42,115.13 L533.67,115.33 L533.92,115.41 L534.17,115.30 L534.42,115.31 L534.67,115.63 L534.92,115.34 L535.17,115.35 L535.42,115.55 L535.67,115.23 L535.92,115.02 L536.17,114.64 L536.42,113.72 L536.67,113.56 L536.92,113.55 L537.17,114.25 L537.42,114.95 L537.67,115.21 L537.92,115.41 L538.17,115.57 L538.42,115.27 L538.67,115.63 L538.92,115.66 L539.17,115.46 L539.42,115.31 L539.67,115.36 L539.92,115.23 L540.17,115.04 L540.42,114.21 L540.67,113.00 L540.92,111.52 L541.17,110.74 L541.42,111.67 L541.67,113.17 L541.92,114.22 L542.17,115.19 L542.42,115.24 L542.67,115.32 L542.92,115.49 L543.17,115.39 L543.42,115.36 L543.68,115.33 L543.93,115.63 L544.18,115.62 L544.43,115.53 L544.68,115.50 L544.93,115.57 L545.18,115.68 L545.43,115.47 L545.68,115.30 L545.93,115.54 L546.18,115.47 L546.43,115.54 L546.68,115.51 L546.93,115.34 L547.18,115.57 L547.43,115.43 L547.68,115.50 L547.93,115.48 L548.18,115.32 L548.43,115.66 L548.68,115.36 L548.93,115.57 L549.18,115.43 L549.43,115.37 L549.68,115.43 L549.93,115.53 L550.18,115.35 L550.43,115.64 L550.68,115.43 L550.93,115.52 L551.18,115.45 L551.43,115.31 L551.68,115.25 L551.93,115.09 L552.18,114.67 L552.43,113.79 L552.68,112.77 L552.93,112.58 L553.18,113.17 L553.43,113.88 L553.68,115.00 L553.93,115.13 L554.18,115.45 L554.43,115.50 L554.68,115.53 L554.93,115.63 L555.18,115.48 L555.43,115.58 L555.69,115.43 L555.94,115.34 L556.19,114.73 L556.44,114.07 L556.69,113.54 L556.94,113.15 L557.19,113.41 L557.44,114.38 L557.69,115.10 L557.94,115.39 L558.19,115.54 L558.44,115.38 L558.69,115.51 L558.94,115.51 L559.19,115.32 L559.44,115.47 L559.69,115.03 L559.94,114.63 L560.19,114.06 L560.44,113.35 L560.69,113.55 L560.94,113.89 L561.19,114.54 L561.44,115.16 L561.69,115.30 L561.94,115.26 L562.19,115.36 L562.44,115.36 L562.69,115.31 L562.94,115.25 L563.19,115.21 L563.44,114.83 L563.69,114.57 L563.94,113.83 L564.19,113.52 L564.44,113.92 L564.69,114.51 L564.94,115.14 L565.19,115.13 L565.44,115.49 L565.69,115.48 L565.94,115.32 L566.19,115.61 L566.44,115.30 L566.69,115.64 L566.94,115.68 L567.19,115.55 L567.44,115.54 L567.69,115.32 L567.95,115.34 L568.20,115.38 L568.45,115.51 L568.70,115.47 L568.95,115.59 L569.20,115.35 L569.45,115.50 L569.70,115.48 L569.95,115.17 L570.20,115.08 L570.45,114.72 L570.70,114.38 L570.95,114.89 L571.20,115.18 L571.45,115.40 L571.70,115.52 L571.95,115.50 L572.20,115.58 L572.45,115.55 L572.70,115.59 L572.95,115.59 L573.20,115.44 L573.45,115.55 L573.70,115.53 L573.95,115.36 L574.20,115.62 L574.45,115.48 L574.70,114.93 L574.95,114.56 L575.20,113.74 L575.45,113.57 L575.70,113.59 L575.95,114.09 L576.20,114.92 L576.45,115.14 L576.70,115.36 L576.95,115.50 L577.20,115.28 L577.45,115.52 L577.70,115.49 L577.95,115.43 L578.20,115.55 L578.45,115.34 L578.70,115.42 L578.95,115.37 L579.20,115.24 L579.45,114.79 L579.70,114.49 L579.96,114.41 L580.21,114.71 L580.46,115.03 L580.71,115.25 L580.96,115.59 L581.21,115.62 L581.46,115.28 L581.71,115.63 L581.96,115.31 L582.21,115.41 L582.46,115.31 L582.71,115.62 L582.96,115.45 L583.21,115.04 L583.46,114.95 L583.71,114.42 L583.96,114.04 L584.21,114.28 L584.46,114.76 L584.71,115.00 L584.96,115.49 L585.21,115.25 L585.46,115.41 L585.71,115.66 L585.96,115.33 L586.21,115.59 L586.46,115.50 L586.71,115.47 L586.96,115.64 L587.21,115.49 L587.46,115.67 L587.71,115.61 L587.96,115.33 L588.21,115.36 L588.46,115.48 L588.71,115.42 L588.96,115.34 L589.21,115.64 L589.46,115.49 L589.71,115.63 L589.96,115.63 L590.21,115.60 L590.46,115.45 L590.71,115.32 L590.96,115.01 L591.21,114.79 L591.46,114.76 L591.71,114.90 L591.96,115.11 L592.22,115.32 L592.47,115.46 L592.72,115.32 L592.97,115.62 L593.22,115.64 L593.47,115.35 L593.72,115.41 L593.97,115.52 L594.22,115.31 L594.47,115.11 L594.72,114.83 L594.97,114.78 L595.22,114.95 L595.47,115.04 L595.72,115.22 L595.97,115.42 L596.22,115.49 L596.47,115.58 L596.72,115.39 L596.97,115.30 L597.22,115.60 L597.47,115.41 L597.72,115.42 L597.97,115.43 L598.22,115.68 L598.47,115.48 L598.72,115.62 L598.97,115.62 L599.22,115.47 L599.47,115.44 L599.72,115.45 L599.97,115.40 L600.22,115.42 L600.47,115.51 L600.72,115.68 L600.97,115.39 L601.22,115.37 L601.47,115.36 L601.72,115.46 L601.97,115.68 L602.22,115.62 L602.47,115.65 L602.72,115.44 L602.97,115.48 L603.22,115.62 L603.47,115.31 L603.72,115.30 L603.97,115.33 L604.23,115.49 L604.48,115.51 L604.73,115.43 L604.98,115.01 L605.23,114.89 L605.48,115.03 L605.73,114.90 L605.98,115.22 L606.23,115.42 L606.48,115.49 L606.73,115.40 L606.98,115.51 L607.23,115.43 L607.48,115.65 L607.73,115.41 L607.98,115.59 L608.23,115.33 L608.48,115.61 L608.73,115.56 L608.98,115.48 L609.23,115.54 L609.48,115.49 L609.73,115.33 L609.98,115.62 L610.23,115.39 L610.48,115.42 L610.73,115.38 L610.98,115.50 L611.23,115.47 L611.48,115.44 L611.73,115.24 L611.98,115.14 L612.23,115.06 L612.48,115.00 L612.73,115.29 L612.98,115.35 L613.23,115.41 L613.48,115.55 L613.73,115.62 L613.98,115.45 L614.23,115.35 L614.48,115.61 L614.73,115.45 L614.98,115.43 L615.23,115.34 L615.48,115.42 L615.73,115.57 L615.98,115.62 L616.23,115.36 L616.49,115.58 L616.74,115.69 L616.99,115.35 L617.24,115.62 L617.49,115.57 L617.74,115.57 L617.99,115.60 L618.24,115.41 L618.49,115.56 L618.74,115.52 L618.99,115.53 L619.24,115.37 L619.49,115.69 L619.74,115.47 L619.99,115.65 L620.24,115.64 L620.49,115.46 L620.74,115.55 L620.99,115.67 L621.24,115.46 L621.49,115.33 L621.74,115.44 L621.99,115.50 L622.24,115.38 L622.49,115.33 L622.74,115.64 L622.99,115.58 L623.24,115.31 L623.49,115.32 L623.74,115.61 L623.99,115.40 L624.24,115.30 L624.49,115.32 L624.74,115.14 L624.99,115.07 L625.24,115.13 L625.49,115.23 L625.74,115.45 L625.99,115.33 L626.24,115.61 L626.49,115.44 L626.74,115.54 L626.99,115.52 L627.24,115.31 L627.49,115.54 L627.74,115.51 L627.99,115.55 L628.24,115.61 L628.50,115.61 L628.75,115.49 L629.00,115.37 L629.25,115.66 L629.50,115.32 L629.75,115.43 L630.00,115.68 L630.25,115.42 L630.50,115.54 L630.75,115.49 L631.00,115.66 L631.25,115.50 L631.50,115.49 L631.75,115.39 L632.00,115.47 L632.25,115.42 L632.50,115.41 L632.75,115.61 L633.00,115.69 L633.25,115.51 L633.50,115.65 L633.75,115.64 L634.00,115.57 L634.25,115.48 L634.50,115.45" stroke="#f5208c" stroke-width="1.1" fill="none" stroke-linejoin="round" />
<path d="M452.60,168.30 L452.85,168.30 L453.10,168.30 L453.35,168.30 L453.60,168.30 L453.85,168.30 L454.10,168.30 L454.35,168.29 L454.60,168.29 L454.85,168.29 L455.10,168.29 L455.35,168.29 L455.60,168.29 L455.85,168.29 L456.10,168.29 L456.35,168.29 L456.60,168.29 L456.85,168.29 L457.10,168.29 L457.35,168.29 L457.60,168.29 L457.85,168.28 L458.10,168.28 L458.35,168.28 L458.60,168.28 L458.86,168.27 L459.11,168.27 L459.36,168.26 L459.61,168.25 L459.86,168.24 L460.11,168.23 L460.36,168.21 L460.61,168.17 L460.86,168.07 L461.11,167.48 L461.36,164.39 L461.61,154.83 L461.86,139.63 L462.11,132.04 L462.36,141.50 L462.61,156.49 L462.86,165.06 L463.11,167.62 L463.36,168.09 L463.61,168.18 L463.86,168.21 L464.11,168.23 L464.36,168.24 L464.61,168.25 L464.86,168.26 L465.11,168.27 L465.36,168.27 L465.61,168.28 L465.86,168.28 L466.11,168.28 L466.36,168.28 L466.61,168.28 L466.86,168.29 L467.11,168.29 L467.36,168.29 L467.61,168.29 L467.86,168.29 L468.11,168.29 L468.36,168.29 L468.61,168.29 L468.86,168.29 L469.11,168.29 L469.36,168.29 L469.61,168.29 L469.86,168.29 L470.11,168.29 L470.36,168.29 L470.61,168.29 L470.87,168.29 L471.12,168.29 L471.37,168.29 L471.62,168.29 L471.87,168.29 L472.12,168.29 L472.37,168.29 L472.62,168.29 L472.87,168.28 L473.12,168.28 L473.37,168.26 L473.62,168.19 L473.87,167.77 L474.12,166.44 L474.37,164.23 L474.62,163.00 L474.87,164.26 L475.12,166.47 L475.37,167.78 L475.62,168.19 L475.87,168.27 L476.12,168.28 L476.37,168.28 L476.62,168.29 L476.87,168.29 L477.12,168.29 L477.37,168.29 L477.62,168.29 L477.87,168.29 L478.12,168.29 L478.37,168.29 L478.62,168.29 L478.87,168.29 L479.12,168.29 L479.37,168.29 L479.62,168.29 L479.87,168.29 L480.12,168.29 L480.37,168.29 L480.62,168.29 L480.87,168.29 L481.12,168.29 L481.37,168.28 L481.62,168.28 L481.87,168.28 L482.12,168.27 L482.37,168.26 L482.62,168.24 L482.87,168.11 L483.13,167.38 L483.38,164.87 L483.63,160.27 L483.88,157.05 L484.13,159.09 L484.38,163.82 L484.63,166.96 L484.88,168.01 L485.13,168.22 L485.38,168.26 L485.63,168.27 L485.88,168.28 L486.13,168.28 L486.38,168.28 L486.63,168.29 L486.88,168.29 L487.13,168.29 L487.38,168.29 L487.63,168.29 L487.88,168.29 L488.13,168.29 L488.38,168.29 L488.63,168.29 L488.88,168.29 L489.13,168.29 L489.38,168.29 L489.63,168.29 L489.88,168.29 L490.13,168.29 L490.38,168.29 L490.63,168.29 L490.88,168.27 L491.13,168.17 L491.38,167.78 L491.63,166.90 L491.88,166.01 L492.13,166.10 L492.38,167.06 L492.63,167.87 L492.88,168.20 L493.13,168.28 L493.38,168.29 L493.63,168.29 L493.88,168.29 L494.13,168.29 L494.38,168.29 L494.63,168.29 L494.88,168.29 L495.14,168.29 L495.39,168.29 L495.64,168.29 L495.89,168.29 L496.14,168.29 L496.39,168.29 L496.64,168.29 L496.89,168.29 L497.14,168.29 L497.39,168.29 L497.64,168.28 L497.89,168.23 L498.14,167.99 L498.39,167.27 L498.64,166.18 L498.89,165.71 L499.14,166.45 L499.39,167.51 L499.64,168.09 L499.89,168.25 L500.14,168.28 L500.39,168.29 L500.64,168.29 L500.89,168.29 L501.14,168.29 L501.39,168.29 L501.64,168.29 L501.89,168.29 L502.14,168.29 L502.39,168.29 L502.64,168.29 L502.89,168.29 L503.14,168.29 L503.39,168.29 L503.64,168.28 L503.89,168.28 L504.14,168.25 L504.39,168.11 L504.64,167.42 L504.89,165.57 L505.14,163.14 L505.39,162.54 L505.64,164.53 L505.89,166.82 L506.14,167.93 L506.39,168.22 L506.64,168.27 L506.89,168.28 L507.14,168.28 L507.40,168.29 L507.65,168.29 L507.90,168.29 L508.15,168.29 L508.40,168.29 L508.65,168.29 L508.90,168.29 L509.15,168.29 L509.40,168.29 L509.65,168.29 L509.90,168.29 L510.15,168.29 L510.40,168.27 L510.65,168.18 L510.90,167.89 L511.15,167.42 L511.40,167.20 L511.65,167.49 L511.90,167.94 L512.15,168.20 L512.40,168.28 L512.65,168.29 L512.90,168.29 L513.15,168.30 L513.40,168.30 L513.65,168.30 L513.90,168.30 L514.15,168.30 L514.40,168.30 L514.65,168.30 L514.90,168.30 L515.15,168.30 L515.40,168.30 L515.65,168.30 L515.90,168.30 L516.15,168.30 L516.40,168.30 L516.65,168.30 L516.90,168.30 L517.15,168.30 L517.40,168.30 L517.65,168.30 L517.90,168.30 L518.15,168.30 L518.40,168.30 L518.65,168.30 L518.90,168.30 L519.15,168.30 L519.41,168.30 L519.66,168.30 L519.91,168.30 L520.16,168.30 L520.41,168.29 L520.66,168.29 L520.91,168.27 L521.16,168.15 L521.41,167.80 L521.66,167.26 L521.91,167.00 L522.16,167.36 L522.41,167.89 L522.66,168.19 L522.91,168.28 L523.16,168.29 L523.41,168.29 L523.66,168.30 L523.91,168.30 L524.16,168.30 L524.41,168.30 L524.66,168.30 L524.91,168.30 L525.16,168.30 L525.41,168.30 L525.66,168.30 L525.91,168.30 L526.16,168.30 L526.41,168.30 L526.66,168.30 L526.91,168.30 L527.16,168.30 L527.41,168.30 L527.66,168.30 L527.91,168.30 L528.16,168.30 L528.41,168.30 L528.66,168.30 L528.91,168.30 L529.16,168.30 L529.41,168.30 L529.66,168.30 L529.91,168.29 L530.16,168.29 L530.41,168.29 L530.66,168.24 L530.91,168.05 L531.16,167.53 L531.41,166.88 L531.67,166.75 L531.92,167.31 L532.17,167.92 L532.42,168.21 L532.67,168.28 L532.92,168.29 L533.17,168.29 L533.42,168.29 L533.67,168.29 L533.92,168.29 L534.17,168.29 L534.42,168.29 L534.67,168.29 L534.92,168.28 L535.17,168.24 L535.42,168.04 L535.67,167.60 L535.92,167.15 L536.17,167.20 L536.42,167.68 L536.67,168.09 L536.92,168.25 L537.17,168.29 L537.42,168.29 L537.67,168.29 L537.92,168.29 L538.17,168.29 L538.42,168.29 L538.67,168.29 L538.92,168.29 L539.17,168.29 L539.42,168.26 L539.67,168.13 L539.92,167.67 L540.17,166.79 L540.42,166.12 L540.67,166.46 L540.92,167.38 L541.17,168.02 L541.42,168.24 L541.67,168.28 L541.92,168.29 L542.17,168.29 L542.42,168.29 L542.67,168.30 L542.92,168.30 L543.17,168.30 L543.42,168.30 L543.68,168.30 L543.93,168.30 L544.18,168.30 L544.43,168.30 L544.68,168.30 L544.93,168.30 L545.18,168.30 L545.43,168.30 L545.68,168.30 L545.93,168.30 L546.18,168.30 L546.43,168.30 L546.68,168.30 L546.93,168.30 L547.18,168.30 L547.43,168.30 L547.68,168.30 L547.93,168.30 L548.18,168.30 L548.43,168.30 L548.68,168.30 L548.93,168.30 L549.18,168.30 L549.43,168.30 L549.68,168.30 L549.93,168.30 L550.18,168.30 L550.43,168.30 L550.68,168.29 L550.93,168.29 L551.18,168.27 L551.43,168.14 L551.68,167.75 L551.93,167.08 L552.18,166.70 L552.43,167.07 L552.68,167.74 L552.93,168.14 L553.18,168.27 L553.43,168.29 L553.68,168.29 L553.93,168.29 L554.18,168.29 L554.43,168.29 L554.68,168.29 L554.93,168.29 L555.18,168.28 L555.43,168.20 L555.69,167.94 L555.94,167.46 L556.19,167.11 L556.44,167.31 L556.69,167.81 L556.94,168.15 L557.19,168.27 L557.44,168.29 L557.69,168.29 L557.94,168.29 L558.19,168.29 L558.44,168.29 L558.69,168.29 L558.94,168.26 L559.19,168.15 L559.44,167.83 L559.69,167.42 L559.94,167.32 L560.19,167.67 L560.44,168.05 L560.69,168.24 L560.94,168.29 L561.19,168.29 L561.44,168.29 L561.69,168.29 L561.94,168.29 L562.19,168.29 L562.44,168.28 L562.69,168.23 L562.94,168.05 L563.19,167.69 L563.44,167.41 L563.69,167.54 L563.94,167.91 L564.19,168.18 L564.44,168.27 L564.69,168.29 L564.94,168.30 L565.19,168.30 L565.44,168.30 L565.69,168.30 L565.94,168.30 L566.19,168.30 L566.44,168.30 L566.69,168.30 L566.94,168.30 L567.19,168.30 L567.44,168.30 L567.69,168.30 L567.95,168.30 L568.20,168.30 L568.45,168.30 L568.70,168.30 L568.95,168.29 L569.20,168.24 L569.45,168.10 L569.70,167.85 L569.95,167.70 L570.20,167.83 L570.45,168.08 L570.70,168.24 L570.95,168.29 L571.20,168.30 L571.45,168.30 L571.70,168.30 L571.95,168.30 L572.20,168.30 L572.45,168.30 L572.70,168.30 L572.95,168.30 L573.20,168.30 L573.45,168.30 L573.70,168.29 L573.95,168.25 L574.20,168.11 L574.45,167.78 L574.70,167.44 L574.95,167.48 L575.20,167.83 L575.45,168.14 L575.70,168.26 L575.95,168.29 L576.20,168.30 L576.45,168.30 L576.70,168.30 L576.95,168.30 L577.20,168.30 L577.45,168.30 L577.70,168.30 L577.95,168.30 L578.20,168.29 L578.45,168.26 L578.70,168.16 L578.95,167.96 L579.20,167.80 L579.45,167.88 L579.70,168.09 L579.96,168.23 L580.21,168.28 L580.46,168.30 L580.71,168.30 L580.96,168.30 L581.21,168.30 L581.46,168.30 L581.71,168.30 L581.96,168.30 L582.21,168.29 L582.46,168.25 L582.71,168.11 L582.96,167.80 L583.21,167.52 L583.46,167.59 L583.71,167.92 L583.96,168.17 L584.21,168.27 L584.46,168.29 L584.71,168.30 L584.96,168.30 L585.21,168.30 L585.46,168.30 L585.71,168.30 L585.96,168.30 L586.21,168.30 L586.46,168.30 L586.71,168.30 L586.96,168.30 L587.21,168.30 L587.46,168.30 L587.71,168.30 L587.96,168.30 L588.21,168.30 L588.46,168.30 L588.71,168.30 L588.96,168.30 L589.21,168.30 L589.46,168.29 L589.71,168.27 L589.96,168.19 L590.21,168.00 L590.46,167.82 L590.71,167.85 L590.96,168.05 L591.21,168.21 L591.46,168.28 L591.71,168.30 L591.96,168.30 L592.22,168.30 L592.47,168.30 L592.72,168.30 L592.97,168.30 L593.22,168.30 L593.47,168.30 L593.72,168.30 L593.97,168.30 L594.22,168.30 L594.47,168.30 L594.72,168.30 L594.97,168.30 L595.22,168.30 L595.47,168.30 L595.72,168.30 L595.97,168.30 L596.22,168.30 L596.47,168.30 L596.72,168.30 L596.97,168.30 L597.22,168.30 L597.47,168.30 L597.72,168.30 L597.97,168.30 L598.22,168.30 L598.47,168.30 L598.72,168.30 L598.97,168.30 L599.22,168.30 L599.47,168.30 L599.72,168.30 L599.97,168.30 L600.22,168.30 L600.47,168.30 L600.72,168.30 L600.97,168.30 L601.22,168.30 L601.47,168.30 L601.72,168.30 L601.97,168.30 L602.22,168.30 L602.47,168.30 L602.72,168.30 L602.97,168.30 L603.22,168.30 L603.47,168.30 L603.72,168.29 L603.97,168.26 L604.23,168.15 L604.48,167.98 L604.73,167.90 L604.98,168.01 L605.23,168.17 L605.48,168.27 L605.73,168.29 L605.98,168.30 L606.23,168.30 L606.48,168.30 L606.73,168.30 L606.98,168.30 L607.23,168.30 L607.48,168.30 L607.73,168.30 L607.98,168.30 L608.23,168.30 L608.48,168.30 L608.73,168.30 L608.98,168.30 L609.23,168.30 L609.48,168.30 L609.73,168.30 L609.98,168.30 L610.23,168.30 L610.48,168.29 L610.73,168.28 L610.98,168.21 L611.23,168.06 L611.48,167.91 L611.73,167.94 L611.98,168.10 L612.23,168.23 L612.48,168.29 L612.73,168.30 L612.98,168.30 L613.23,168.30 L613.48,168.30 L613.73,168.30 L613.98,168.30 L614.23,168.30 L614.48,168.30 L614.73,168.30 L614.98,168.30 L615.23,168.30 L615.48,168.30 L615.73,168.30 L615.98,168.30 L616.23,168.30 L616.49,168.30 L616.74,168.30 L616.99,168.30 L617.24,168.30 L617.49,168.30 L617.74,168.30 L617.99,168.30 L618.24,168.30 L618.49,168.30 L618.74,168.30 L618.99,168.30 L619.24,168.30 L619.49,168.30 L619.74,168.30 L619.99,168.30 L620.24,168.30 L620.49,168.30 L620.74,168.30 L620.99,168.30 L621.24,168.30 L621.49,168.30 L621.74,168.30 L621.99,168.30 L622.24,168.30 L622.49,168.30 L622.74,168.30 L622.99,168.30 L623.24,168.30 L623.49,168.29 L623.74,168.27 L623.99,168.20 L624.24,168.07 L624.49,168.00 L624.74,168.07 L624.99,168.19 L625.24,168.27 L625.49,168.29 L625.74,168.30 L625.99,168.30 L626.24,168.30 L626.49,168.30 L626.74,168.30 L626.99,168.30 L627.24,168.30 L627.49,168.30 L627.74,168.30 L627.99,168.30 L628.24,168.30 L628.50,168.30 L628.75,168.30 L629.00,168.30 L629.25,168.30 L629.50,168.30 L629.75,168.30 L630.00,168.30 L630.25,168.30 L630.50,168.30 L630.75,168.30 L631.00,168.30 L631.25,168.30 L631.50,168.30 L631.75,168.30 L632.00,168.30 L632.25,168.30 L632.50,168.30 L632.75,168.30 L633.00,168.30 L633.25,168.30 L633.50,168.30 L633.75,168.30 L634.00,168.30 L634.25,168.30 L634.50,168.30" stroke="#555" stroke-width="1" fill="none" stroke-linejoin="round" />
<rect x="452.6" y="25.3" width="181.89999999999998" height="146.2" fill="none" stroke="#333" stroke-width="1" />
<line x1="452.6" y1="171.7" x2="634.5" y2="171.7" stroke="#444" stroke-width="1.8" />
<line x1="452.3" y1="171.7" x2="452.3" y2="173.5" stroke="#444" stroke-width="1" />
<line x1="472.5" y1="171.7" x2="472.5" y2="174.2" stroke="#444" stroke-width="1" />
<line x1="492.7" y1="171.7" x2="492.7" y2="173.5" stroke="#444" stroke-width="1" />
<line x1="512.9" y1="171.7" x2="512.9" y2="174.2" stroke="#444" stroke-width="1" />
<line x1="533.1" y1="171.7" x2="533.1" y2="173.5" stroke="#444" stroke-width="1" />
<line x1="553.3" y1="171.7" x2="553.3" y2="174.2" stroke="#444" stroke-width="1" />
<line x1="573.5" y1="171.7" x2="573.5" y2="173.5" stroke="#444" stroke-width="1" />
<line x1="593.7" y1="171.7" x2="593.7" y2="174.2" stroke="#444" stroke-width="1" />
<line x1="613.9" y1="171.7" x2="613.9" y2="173.5" stroke="#444" stroke-width="1" />
<line x1="634.1" y1="171.7" x2="634.1" y2="174.2" stroke="#444" stroke-width="1" />
<text x="470.5" y="185.2" font-size="12" text-anchor="middle" font-weight="normal" fill="#111" >10</text>
<text x="510.9" y="185.2" font-size="12" text-anchor="middle" font-weight="normal" fill="#111" >20</text>
<text x="551.3" y="185.2" font-size="12" text-anchor="middle" font-weight="normal" fill="#111" >30</text>
<text x="591.7" y="185.2" font-size="12" text-anchor="middle" font-weight="normal" fill="#111" >40</text>
<text x="632.1" y="185.2" font-size="12" text-anchor="middle" font-weight="normal" fill="#111" >50</text>
<text x="601" y="60" font-size="10" text-anchor="middle" font-weight="normal" fill="#222" textLength="38" lengthAdjust="spacingAndGlyphs" >ZIF-DHA</text>
<text x="602.5" y="109" font-size="10" text-anchor="middle" font-weight="normal" fill="#222" textLength="13.2" lengthAdjust="spacingAndGlyphs" >ZIF</text>
<text x="599.2" y="162" font-size="10" text-anchor="middle" font-weight="normal" fill="#222" textLength="59.6" lengthAdjust="spacingAndGlyphs" >Simulated ZIF</text>
<text x="542.8" y="200.6" font-size="12" text-anchor="middle" font-weight="normal" fill="#000" textLength="93" lengthAdjust="spacingAndGlyphs" >2 Theta (degree)</text>
<text x="438.3" y="101.8" font-size="11.5" text-anchor="middle" font-weight="normal" fill="#000" textLength="79" lengthAdjust="spacingAndGlyphs" transform="rotate(-90 438.3 101.8)" >Intensity (a.u.)</text>
<rect x="42.4" y="280.531" width="30.6" height="81.469" fill="#000" stroke="none" stroke-width="1" />
<rect x="87.2" y="263.096" width="30.6" height="98.904" fill="#d2d2d2" stroke="#444" stroke-width="0.8" />
<line x1="102.4" y1="255.171" x2="102.4" y2="272.289" stroke="#222" stroke-width="0.9" />
<line x1="99" y1="255.171" x2="106" y2="255.171" stroke="#222" stroke-width="0.9" />
<line x1="99" y1="272.289" x2="106" y2="272.289" stroke="#222" stroke-width="0.9" />
<path d="M27.1,235.2 L132.5,235.2 L132.5,362 L27.1,362 Z" stroke="#555" stroke-width="1" fill="none" stroke-linejoin="round" />
<line x1="25.1" y1="362.0" x2="27.1" y2="362.0" stroke="#555" stroke-width="1" />
<text x="24.3" y="365.3" font-size="9.6" text-anchor="end" font-weight="normal" fill="#1a1a1a" textLength="4.0" lengthAdjust="spacingAndGlyphs" >0</text>
<line x1="25.1" y1="330.3" x2="27.1" y2="330.3" stroke="#555" stroke-width="1" />
<text x="24.3" y="333.6" font-size="9.6" text-anchor="end" font-weight="normal" fill="#1a1a1a" textLength="11.8" lengthAdjust="spacingAndGlyphs" >100</text>
<line x1="25.1" y1="298.6" x2="27.1" y2="298.6" stroke="#555" stroke-width="1" />
<text x="24.3" y="301.90000000000003" font-size="9.6" text-anchor="end" font-weight="normal" fill="#1a1a1a" textLength="11.8" lengthAdjust="spacingAndGlyphs" >200</text>
<line x1="25.1" y1="266.9" x2="27.1" y2="266.9" stroke="#555" stroke-width="1" />
<text x="24.3" y="270.2" font-size="9.6" text-anchor="end" font-weight="normal" fill="#1a1a1a" textLength="11.8" lengthAdjust="spacingAndGlyphs" >300</text>
<line x1="25.1" y1="235.2" x2="27.1" y2="235.2" stroke="#555" stroke-width="1" />
<text x="24.3" y="238.5" font-size="9.6" text-anchor="end" font-weight="normal" fill="#1a1a1a" textLength="11.8" lengthAdjust="spacingAndGlyphs" >400</text>
<line x1="57.4" y1="362" x2="57.4" y2="364.5" stroke="#555" stroke-width="1" />
<line x1="102.4" y1="362" x2="102.4" y2="364.5" stroke="#555" stroke-width="1" />
<text x="58.6" y="375.5" font-size="10" text-anchor="end" font-weight="normal" fill="#222" textLength="12.5" lengthAdjust="spacingAndGlyphs" transform="rotate(-45 58.6 375.5)" >ZIF</text>
<text x="101.2" y="378.2" font-size="10" text-anchor="end" font-weight="normal" fill="#222" textLength="32" lengthAdjust="spacingAndGlyphs" transform="rotate(-45 101.2 378.2)" >ZIF-DHA</text>
<text x="7.6" y="298.7" font-size="8.4" text-anchor="middle" font-weight="normal" fill="#222" textLength="78" lengthAdjust="spacingAndGlyphs" transform="rotate(-90 7.6 298.7)" >Particle size(nm)</text>
<line x1="178.6" y1="234.3" x2="178.6" y2="361.6" stroke="#000" stroke-width="1.6" />
<line x1="177.79999999999998" y1="360.8" x2="301" y2="360.8" stroke="#000" stroke-width="1.6" />
<path d="M178.60,360.80 L179.53,360.80 L179.67,360.80 L179.85,360.80 L180.05,360.80 L180.28,360.80 L180.54,360.80 L180.86,360.80 L181.22,360.80 L181.64,360.80 L182.12,360.80 L182.68,360.80 L183.34,360.80 L184.10,360.80 L184.98,360.80 L186.00,360.80 L187.18,360.80 L188.55,360.80 L190.14,360.80 L191.99,360.80 L194.13,360.80 L196.62,360.80 L199.50,355.42 L203.30,331.70 L206.50,303.23 L210.50,286.47 L216.00,290.27 L221.80,310.82 L228.60,337.08 L236.20,355.42 L245.70,360.80 L256.20,360.80 L268.30,360.80 L283.00,360.80 L299.50,360.80" stroke="#ff2d8a" stroke-width="1.3" fill="none" stroke-linejoin="round" />
<rect x="176.0" y="358.2" width="5.2" height="5.2" fill="#ff2d8a" stroke="none" stroke-width="1" />
<rect x="176.92582416542848" y="358.2" width="5.2" height="5.2" fill="#ff2d8a" stroke="none" stroke-width="1" />
<rect x="177.07395603189704" y="358.2" width="5.2" height="5.2" fill="#ff2d8a" stroke="none" stroke-width="1" />
<rect x="177.24578899700057" y="358.2" width="5.2" height="5.2" fill="#ff2d8a" stroke="none" stroke-width="1" />
<rect x="177.44511523652065" y="358.2" width="5.2" height="5.2" fill="#ff2d8a" stroke="none" stroke-width="1" />
<rect x="177.67633367436395" y="358.2" width="5.2" height="5.2" fill="#ff2d8a" stroke="none" stroke-width="1" />
<rect x="177.9445470622622" y="358.2" width="5.2" height="5.2" fill="#ff2d8a" stroke="none" stroke-width="1" />
<rect x="178.25567459222412" y="358.2" width="5.2" height="5.2" fill="#ff2d8a" stroke="none" stroke-width="1" />
<rect x="178.61658252697998" y="358.2" width="5.2" height="5.2" fill="#ff2d8a" stroke="none" stroke-width="1" />
<rect x="179.03523573129678" y="358.2" width="5.2" height="5.2" fill="#ff2d8a" stroke="none" stroke-width="1" />
<rect x="179.52087344830426" y="358.2" width="5.2" height="5.2" fill="#ff2d8a" stroke="none" stroke-width="1" />
<rect x="180.08421320003293" y="358.2" width="5.2" height="5.2" fill="#ff2d8a" stroke="none" stroke-width="1" />
<rect x="180.73768731203822" y="358.2" width="5.2" height="5.2" fill="#ff2d8a" stroke="none" stroke-width="1" />
<rect x="181.49571728196435" y="358.2" width="5.2" height="5.2" fill="#ff2d8a" stroke="none" stroke-width="1" />
<rect x="182.37503204707863" y="358.2" width="5.2" height="5.2" fill="#ff2d8a" stroke="none" stroke-width="1" />
<rect x="183.39503717461122" y="358.2" width="5.2" height="5.2" fill="#ff2d8a" stroke="none" stroke-width="1" />
<rect x="184.57824312254903" y="358.2" width="5.2" height="5.2" fill="#ff2d8a" stroke="none" stroke-width="1" />
<rect x="185.95076202215685" y="358.2" width="5.2" height="5.2" fill="#ff2d8a" stroke="none" stroke-width="1" />
<rect x="187.54288394570193" y="358.2" width="5.2" height="5.2" fill="#ff2d8a" stroke="none" stroke-width="1" />
<rect x="189.38974537701424" y="358.2" width="5.2" height="5.2" fill="#ff2d8a" stroke="none" stroke-width="1" />
<rect x="191.53210463733652" y="358.2" width="5.2" height="5.2" fill="#ff2d8a" stroke="none" stroke-width="1" />
<rect x="194.01724137931035" y="358.2" width="5.2" height="5.2" fill="#ff2d8a" stroke="none" stroke-width="1" />
<rect x="196.9" y="352.8229" width="5.2" height="5.2" fill="#ff2d8a" stroke="none" stroke-width="1" />
<rect x="200.70000000000002" y="329.1004" width="5.2" height="5.2" fill="#ff2d8a" stroke="none" stroke-width="1" />
<rect x="203.9" y="300.6334" width="5.2" height="5.2" fill="#ff2d8a" stroke="none" stroke-width="1" />
<rect x="207.9" y="283.8695" width="5.2" height="5.2" fill="#ff2d8a" stroke="none" stroke-width="1" />
<rect x="213.4" y="287.6651" width="5.2" height="5.2" fill="#ff2d8a" stroke="none" stroke-width="1" />
<rect x="219.20000000000002" y="308.2246" width="5.2" height="5.2" fill="#ff2d8a" stroke="none" stroke-width="1" />
<rect x="226.0" y="334.47749999999996" width="5.2" height="5.2" fill="#ff2d8a" stroke="none" stroke-width="1" />
<rect x="233.6" y="352.8229" width="5.2" height="5.2" fill="#ff2d8a" stroke="none" stroke-width="1" />
<rect x="243.1" y="358.2" width="5.2" height="5.2" fill="#ff2d8a" stroke="none" stroke-width="1" />
<rect x="253.6" y="358.2" width="5.2" height="5.2" fill="#ff2d8a" stroke="none" stroke-width="1" />
<rect x="265.7" y="358.2" width="5.2" height="5.2" fill="#ff2d8a" stroke="none" stroke-width="1" />
<rect x="280.4" y="358.2" width="5.2" height="5.2" fill="#ff2d8a" stroke="none" stroke-width="1" />
<rect x="296.9" y="358.2" width="5.2" height="5.2" fill="#ff2d8a" stroke="none" stroke-width="1" />
<path d="M178.60,360.80 L179.53,360.80 L179.67,360.80 L179.85,360.80 L180.05,360.80 L180.28,360.80 L180.54,360.80 L180.86,360.80 L181.22,360.80 L181.64,360.80 L182.12,360.80 L182.68,360.80 L183.34,360.80 L184.10,360.80 L184.98,360.80 L186.00,360.80 L187.18,360.80 L188.55,360.80 L190.14,360.80 L191.99,360.80 L194.13,360.80 L196.62,360.80 L199.50,339.92 L202.70,297.86 L206.50,269.71 L210.90,276.98 L215.70,314.30 L221.80,351.31 L228.60,360.80 L236.20,360.80 L245.70,360.80 L256.20,360.80 L268.30,360.80 L283.00,360.80 L299.50,360.80" stroke="#1818c8" stroke-width="1.3" fill="none" stroke-linejoin="round" />
<circle cx="178.60" cy="360.80" r="2.8" fill="#1818c8"/>
<circle cx="179.53" cy="360.80" r="2.8" fill="#1818c8"/>
<circle cx="179.67" cy="360.80" r="2.8" fill="#1818c8"/>
<circle cx="179.85" cy="360.80" r="2.8" fill="#1818c8"/>
<circle cx="180.05" cy="360.80" r="2.8" fill="#1818c8"/>
<circle cx="180.28" cy="360.80" r="2.8" fill="#1818c8"/>
<circle cx="180.54" cy="360.80" r="2.8" fill="#1818c8"/>
<circle cx="180.86" cy="360.80" r="2.8" fill="#1818c8"/>
<circle cx="181.22" cy="360.80" r="2.8" fill="#1818c8"/>
<circle cx="181.64" cy="360.80" r="2.8" fill="#1818c8"/>
<circle cx="182.12" cy="360.80" r="2.8" fill="#1818c8"/>
<circle cx="182.68" cy="360.80" r="2.8" fill="#1818c8"/>
<circle cx="183.34" cy="360.80" r="2.8" fill="#1818c8"/>
<circle cx="184.10" cy="360.80" r="2.8" fill="#1818c8"/>
<circle cx="184.98" cy="360.80" r="2.8" fill="#1818c8"/>
<circle cx="186.00" cy="360.80" r="2.8" fill="#1818c8"/>
<circle cx="187.18" cy="360.80" r="2.8" fill="#1818c8"/>
<circle cx="188.55" cy="360.80" r="2.8" fill="#1818c8"/>
<circle cx="190.14" cy="360.80" r="2.8" fill="#1818c8"/>
<circle cx="191.99" cy="360.80" r="2.8" fill="#1818c8"/>
<circle cx="194.13" cy="360.80" r="2.8" fill="#1818c8"/>
<circle cx="196.62" cy="360.80" r="2.8" fill="#1818c8"/>
<circle cx="199.50" cy="339.92" r="2.8" fill="#1818c8"/>
<circle cx="202.70" cy="297.86" r="2.8" fill="#1818c8"/>
<circle cx="206.50" cy="269.71" r="2.8" fill="#1818c8"/>
<circle cx="210.90" cy="276.98" r="2.8" fill="#1818c8"/>
<circle cx="215.70" cy="314.30" r="2.8" fill="#1818c8"/>
<circle cx="221.80" cy="351.31" r="2.8" fill="#1818c8"/>
<circle cx="228.60" cy="360.80" r="2.8" fill="#1818c8"/>
<circle cx="236.20" cy="360.80" r="2.8" fill="#1818c8"/>
<circle cx="245.70" cy="360.80" r="2.8" fill="#1818c8"/>
<circle cx="256.20" cy="360.80" r="2.8" fill="#1818c8"/>
<circle cx="268.30" cy="360.80" r="2.8" fill="#1818c8"/>
<circle cx="283.00" cy="360.80" r="2.8" fill="#1818c8"/>
<circle cx="299.50" cy="360.80" r="2.8" fill="#1818c8"/>
<line x1="175.6" y1="360.8" x2="178.6" y2="360.8" stroke="#000" stroke-width="1.4" />
<text x="174" y="365.1" font-size="12" text-anchor="end" font-weight="normal" fill="#111" textLength="6.4" lengthAdjust="spacingAndGlyphs" >0</text>
<line x1="175.6" y1="329.17" x2="178.6" y2="329.17" stroke="#000" stroke-width="1.4" />
<text x="174" y="333.47" font-size="12" text-anchor="end" font-weight="normal" fill="#111" textLength="12.8" lengthAdjust="spacingAndGlyphs" >10</text>
<line x1="175.6" y1="297.54" x2="178.6" y2="297.54" stroke="#000" stroke-width="1.4" />
<text x="174" y="301.84000000000003" font-size="12" text-anchor="end" font-weight="normal" fill="#111" textLength="12.8" lengthAdjust="spacingAndGlyphs" >20</text>
<line x1="175.6" y1="265.91" x2="178.6" y2="265.91" stroke="#000" stroke-width="1.4" />
<text x="174" y="270.21000000000004" font-size="12" text-anchor="end" font-weight="normal" fill="#111" textLength="12.8" lengthAdjust="spacingAndGlyphs" >30</text>
<line x1="175.6" y1="234.28000000000003" x2="178.6" y2="234.28000000000003" stroke="#000" stroke-width="1.4" />
<text x="174" y="238.58000000000004" font-size="12" text-anchor="end" font-weight="normal" fill="#111" textLength="12.8" lengthAdjust="spacingAndGlyphs" >40</text>
<line x1="178.6" y1="360.8" x2="178.6" y2="363.8" stroke="#000" stroke-width="1.4" />
<text x="178.6" y="374.6" font-size="12" text-anchor="middle" font-weight="normal" fill="#111" >0</text>
<line x1="233.5" y1="360.8" x2="233.5" y2="363.8" stroke="#000" stroke-width="1.4" />
<text x="233.5" y="374.6" font-size="12" text-anchor="middle" font-weight="normal" fill="#111" >500</text>
<line x1="288.4" y1="360.8" x2="288.4" y2="363.8" stroke="#000" stroke-width="1.4" />
<text x="288.4" y="374.6" font-size="12" text-anchor="middle" font-weight="normal" fill="#111" >1000</text>
<text x="235" y="388.8" font-size="11" text-anchor="middle" font-weight="normal" fill="#111" textLength="48" lengthAdjust="spacingAndGlyphs" >Size(nm)</text>
<text x="149.3" y="297" font-size="12" text-anchor="middle" font-weight="normal" fill="#111" textLength="54" lengthAdjust="spacingAndGlyphs" transform="rotate(-90 149.3 297)" >Number(%)</text>
<line x1="200.1" y1="235.8" x2="215.6" y2="235.8" stroke="#1818c8" stroke-width="1.5" />
<circle cx="207.9" cy="235.8" r="2.7" fill="#1818c8"/>
<text x="224.3" y="239.6" font-size="12" text-anchor="start" font-weight="normal" fill="#111" textLength="16.8" lengthAdjust="spacingAndGlyphs" >ZIF</text>
<line x1="200.1" y1="252.9" x2="215.6" y2="252.9" stroke="#ff2d8a" stroke-width="1.5" />
<rect x="205.2" y="250.3" width="5.8" height="5.2" fill="#ff2d8a" stroke="none" stroke-width="1" />
<text x="224.3" y="256.8" font-size="12" text-anchor="start" font-weight="normal" fill="#111" textLength="46.2" lengthAdjust="spacingAndGlyphs" >ZIF-DHA</text>
<rect x="342.2" y="253.3928571428571" width="30.6" height="108.30714285714288" fill="#000" stroke="none" stroke-width="1" />
<rect x="410.4" y="300.02" width="30.6" height="61.68000000000001" fill="#c0c0c0" stroke="#444" stroke-width="0.8" />
<line x1="357.3" y1="251.19" x2="357.3" y2="253.3928571428571" stroke="#222" stroke-width="0.9" />
<line x1="356" y1="251.19" x2="358.6" y2="251.19" stroke="#222" stroke-width="0.9" />
<line x1="425.4" y1="294.88" x2="425.4" y2="305.52714285714285" stroke="#333" stroke-width="0.9" />
<line x1="424.5" y1="294.88" x2="426.3" y2="294.88" stroke="#333" stroke-width="0.9" />
<line x1="424.5" y1="305.52714285714285" x2="426.3" y2="305.52714285714285" stroke="#333" stroke-width="0.9" />
<path d="M334.4,233.2 L448.5,233.2 L448.5,361.7 L334.4,361.7 Z" stroke="#555" stroke-width="1" fill="none" stroke-linejoin="round" />
<line x1="332.4" y1="361.7" x2="334.4" y2="361.7" stroke="#555" stroke-width="0.8" />
<text x="331.5" y="365.3" font-size="10.3" text-anchor="end" font-weight="normal" fill="#222" textLength="4.4" lengthAdjust="spacingAndGlyphs" >0</text>
<line x1="332.4" y1="343.34285714285716" x2="334.4" y2="343.34285714285716" stroke="#555" stroke-width="0.8" />
<text x="331.5" y="346.9428571428572" font-size="10.3" text-anchor="end" font-weight="normal" fill="#222" textLength="4.4" lengthAdjust="spacingAndGlyphs" >5</text>
<line x1="332.4" y1="324.98571428571427" x2="334.4" y2="324.98571428571427" stroke="#555" stroke-width="0.8" />
<text x="331.5" y="328.5857142857143" font-size="10.3" text-anchor="end" font-weight="normal" fill="#222" textLength="8.8" lengthAdjust="spacingAndGlyphs" >10</text>
<line x1="332.4" y1="306.62857142857143" x2="334.4" y2="306.62857142857143" stroke="#555" stroke-width="0.8" />
<text x="331.5" y="310.22857142857146" font-size="10.3" text-anchor="end" font-weight="normal" fill="#222" textLength="8.8" lengthAdjust="spacingAndGlyphs" >15</text>
<line x1="332.4" y1="288.27142857142854" x2="334.4" y2="288.27142857142854" stroke="#555" stroke-width="0.8" />
<text x="331.5" y="291.87142857142857" font-size="10.3" text-anchor="end" font-weight="normal" fill="#222" textLength="8.8" lengthAdjust="spacingAndGlyphs" >20</text>
<line x1="332.4" y1="269.9142857142857" x2="334.4" y2="269.9142857142857" stroke="#555" stroke-width="0.8" />
<text x="331.5" y="273.51428571428573" font-size="10.3" text-anchor="end" font-weight="normal" fill="#222" textLength="8.8" lengthAdjust="spacingAndGlyphs" >25</text>
<line x1="332.4" y1="251.55714285714285" x2="334.4" y2="251.55714285714285" stroke="#555" stroke-width="0.8" />
<text x="331.5" y="255.15714285714284" font-size="10.3" text-anchor="end" font-weight="normal" fill="#222" textLength="8.8" lengthAdjust="spacingAndGlyphs" >30</text>
<line x1="332.4" y1="233.2" x2="334.4" y2="233.2" stroke="#555" stroke-width="0.8" />
<text x="331.5" y="236.79999999999998" font-size="10.3" text-anchor="end" font-weight="normal" fill="#222" textLength="8.8" lengthAdjust="spacingAndGlyphs" >35</text>
<line x1="333.4" y1="358.0285714285714" x2="334.4" y2="358.0285714285714" stroke="#777" stroke-width="0.6" />
<line x1="333.4" y1="354.35714285714283" x2="334.4" y2="354.35714285714283" stroke="#777" stroke-width="0.6" />
<line x1="333.4" y1="350.68571428571425" x2="334.4" y2="350.68571428571425" stroke="#777" stroke-width="0.6" />
<line x1="333.4" y1="347.0142857142857" x2="334.4" y2="347.0142857142857" stroke="#777" stroke-width="0.6" />
<line x1="333.4" y1="339.6714285714286" x2="334.4" y2="339.6714285714286" stroke="#777" stroke-width="0.6" />
<line x1="333.4" y1="336.0" x2="334.4" y2="336.0" stroke="#777" stroke-width="0.6" />
<line x1="333.4" y1="332.3285714285714" x2="334.4" y2="332.3285714285714" stroke="#777" stroke-width="0.6" />
<line x1="333.4" y1="328.65714285714284" x2="334.4" y2="328.65714285714284" stroke="#777" stroke-width="0.6" />
<line x1="333.4" y1="321.3142857142857" x2="334.4" y2="321.3142857142857" stroke="#777" stroke-width="0.6" />
<line x1="333.4" y1="317.6428571428571" x2="334.4" y2="317.6428571428571" stroke="#777" stroke-width="0.6" />
<line x1="333.4" y1="313.97142857142853" x2="334.4" y2="313.97142857142853" stroke="#777" stroke-width="0.6" />
<line x1="333.4" y1="310.3" x2="334.4" y2="310.3" stroke="#777" stroke-width="0.6" />
<line x1="333.4" y1="302.95714285714286" x2="334.4" y2="302.95714285714286" stroke="#777" stroke-width="0.6" />
<line x1="333.4" y1="299.2857142857143" x2="334.4" y2="299.2857142857143" stroke="#777" stroke-width="0.6" />
<line x1="333.4" y1="295.6142857142857" x2="334.4" y2="295.6142857142857" stroke="#777" stroke-width="0.6" />
<line x1="333.4" y1="291.9428571428571" x2="334.4" y2="291.9428571428571" stroke="#777" stroke-width="0.6" />
<line x1="333.4" y1="284.6" x2="334.4" y2="284.6" stroke="#777" stroke-width="0.6" />
<line x1="333.4" y1="280.92857142857144" x2="334.4" y2="280.92857142857144" stroke="#777" stroke-width="0.6" />
<line x1="333.4" y1="277.25714285714287" x2="334.4" y2="277.25714285714287" stroke="#777" stroke-width="0.6" />
<line x1="333.4" y1="273.5857142857143" x2="334.4" y2="273.5857142857143" stroke="#777" stroke-width="0.6" />
<line x1="333.4" y1="266.24285714285713" x2="334.4" y2="266.24285714285713" stroke="#777" stroke-width="0.6" />
<line x1="333.4" y1="262.57142857142856" x2="334.4" y2="262.57142857142856" stroke="#777" stroke-width="0.6" />
<line x1="333.4" y1="258.9" x2="334.4" y2="258.9" stroke="#777" stroke-width="0.6" />
<line x1="333.4" y1="255.2285714285714" x2="334.4" y2="255.2285714285714" stroke="#777" stroke-width="0.6" />
<line x1="333.4" y1="247.88571428571427" x2="334.4" y2="247.88571428571427" stroke="#777" stroke-width="0.6" />
<line x1="333.4" y1="244.21428571428572" x2="334.4" y2="244.21428571428572" stroke="#777" stroke-width="0.6" />
<line x1="333.4" y1="240.54285714285714" x2="334.4" y2="240.54285714285714" stroke="#777" stroke-width="0.6" />
<line x1="333.4" y1="236.87142857142857" x2="334.4" y2="236.87142857142857" stroke="#777" stroke-width="0.6" />
<line x1="372.2" y1="361.7" x2="372.2" y2="364.2" stroke="#555" stroke-width="0.8" />
<line x1="448.5" y1="361.7" x2="448.5" y2="364.2" stroke="#555" stroke-width="0.8" />
<text x="357.5" y="372.5" font-size="9.5" text-anchor="end" font-weight="normal" fill="#222" textLength="15" lengthAdjust="spacingAndGlyphs" transform="rotate(-45 357.5 372.5)" >ZIF</text>
<text x="425" y="374" font-size="9.5" text-anchor="end" font-weight="normal" fill="#222" textLength="36" lengthAdjust="spacingAndGlyphs" transform="rotate(-45 425 374)" >ZIF-DHA</text>
<text x="321.5" y="296.8" font-size="9" text-anchor="middle" font-weight="normal" fill="#555" textLength="48" lengthAdjust="spacingAndGlyphs" transform="rotate(-90 321.5 296.8)" >Zeta (mV)</text>
<path d="M481.50,265.23 L481.75,265.71 L482.00,265.90 L482.25,265.45 L482.50,265.20 L482.75,265.58 L483.00,265.74 L483.25,265.93 L483.50,265.24 L483.75,265.21 L484.00,265.81 L484.25,265.74 L484.50,266.06 L484.75,265.89 L485.00,265.57 L485.25,265.52 L485.50,266.37 L485.75,265.51 L486.00,265.36 L486.25,265.26 L486.50,265.63 L486.75,265.64 L487.00,265.50 L487.25,265.58 L487.50,265.68 L487.75,265.81 L488.00,265.93 L488.25,265.66 L488.50,265.06 L488.75,265.81 L489.00,265.17 L489.25,265.55 L489.50,265.16 L489.75,265.60 L490.00,265.37 L490.25,265.66 L490.50,266.59 L490.75,265.59 L491.00,265.85 L491.25,265.20 L491.50,265.51 L491.75,265.80 L492.00,265.57 L492.25,265.71 L492.50,265.63 L492.75,265.30 L493.00,265.77 L493.25,265.36 L493.50,266.16 L493.75,265.45 L494.00,265.81 L494.25,265.60 L494.50,265.89 L494.75,265.42 L495.00,265.90 L495.25,265.56 L495.50,265.98 L495.75,265.79 L496.00,265.64 L496.25,265.37 L496.50,265.83 L496.75,265.74 L497.00,266.09 L497.25,265.49 L497.50,265.77 L497.75,265.75 L498.00,265.68 L498.25,265.66 L498.50,265.65 L498.75,265.42 L499.00,265.30 L499.25,265.48 L499.50,265.78 L499.75,266.05 L500.00,265.89 L500.25,265.92 L500.50,265.83 L500.75,265.81 L501.00,265.66 L501.25,265.83 L501.50,266.13 L501.75,265.50 L502.00,265.39 L502.25,266.19 L502.50,265.67 L502.75,265.89 L503.00,265.86 L503.25,265.26 L503.50,266.33 L503.75,266.13 L504.00,265.65 L504.25,265.83 L504.50,265.64 L504.75,265.33 L505.00,265.57 L505.25,265.71 L505.50,265.93 L505.75,265.81 L506.00,265.62 L506.25,266.01 L506.50,265.37 L506.75,265.84 L507.00,265.93 L507.25,265.51 L507.50,265.06 L507.75,265.33 L508.00,265.67 L508.25,265.76 L508.50,266.06 L508.75,265.30 L509.00,265.60 L509.25,265.80 L509.50,265.56 L509.75,264.90 L510.00,265.86 L510.25,266.35 L510.50,266.03 L510.75,265.61 L511.00,266.03 L511.25,266.69 L511.50,268.10 L511.75,268.54 L512.00,269.66 L512.25,271.51 L512.50,272.38 L512.75,274.04 L513.00,273.84 L513.25,273.84 L513.50,273.52 L513.75,272.58 L514.00,270.95 L514.25,269.45 L514.50,267.59 L514.75,266.97 L515.00,266.33 L515.25,265.93 L515.50,266.02 L515.75,265.61 L516.00,265.88 L516.25,265.64 L516.50,265.51 L516.75,265.64 L517.00,265.73 L517.25,265.86 L517.50,265.46 L517.75,265.53 L518.00,265.19 L518.25,266.08 L518.50,266.04 L518.75,265.55 L519.00,265.46 L519.25,265.23 L519.50,265.65 L519.75,265.66 L520.00,266.25 L520.25,265.67 L520.50,265.37 L520.75,264.87 L521.00,266.02 L521.25,265.66 L521.50,265.12 L521.75,265.65 L522.00,265.12 L522.25,266.64 L522.50,265.94 L522.75,265.77 L523.00,265.55 L523.25,264.96 L523.50,265.56 L523.75,265.13 L524.00,265.78 L524.25,264.96 L524.50,265.33 L524.75,265.97 L525.00,266.09 L525.25,265.25 L525.50,265.14 L525.75,265.86 L526.00,265.86 L526.25,265.30 L526.50,265.39 L526.75,265.39 L527.00,265.24 L527.25,265.40 L527.50,265.98 L527.75,265.81 L528.00,266.22 L528.25,265.57 L528.50,265.56 L528.75,265.31 L529.00,265.56 L529.25,265.21 L529.50,265.07 L529.75,265.81 L530.00,266.03 L530.25,265.85 L530.50,266.00 L530.75,265.68 L531.00,265.38 L531.25,265.63 L531.50,265.49 L531.75,265.27 L532.00,265.09 L532.25,265.16 L532.50,265.61 L532.75,265.68 L533.00,265.53 L533.25,266.18 L533.50,265.94 L533.75,266.29 L534.00,266.85 L534.25,266.76 L534.50,267.12 L534.75,268.80 L535.00,269.34 L535.25,270.90 L535.50,271.44 L535.75,272.20 L536.00,272.33 L536.25,271.28 L536.50,271.55 L536.75,270.30 L537.00,269.32 L537.25,268.45 L537.50,267.95 L537.75,267.31 L538.00,266.91 L538.25,265.98 L538.50,266.55 L538.75,266.69 L539.00,268.37 L539.25,269.61 L539.50,269.82 L539.75,270.04 L540.00,269.27 L540.25,268.40 L540.50,266.80 L540.75,266.05 L541.00,265.65 L541.25,266.20 L541.50,265.93 L541.75,265.53 L542.00,265.63 L542.25,265.59 L542.50,265.61 L542.75,265.48 L543.00,265.44 L543.25,265.16 L543.50,265.34 L543.75,266.02 L544.00,265.68 L544.25,265.53 L544.50,265.44 L544.75,265.52 L545.00,265.60 L545.25,265.30 L545.50,265.55 L545.75,265.55 L546.00,265.25 L546.25,265.23 L546.50,265.17 L546.75,265.14 L547.00,265.72 L547.25,264.74 L547.50,265.37 L547.75,265.26 L548.00,265.25 L548.25,265.46 L548.50,265.76 L548.75,265.44 L549.00,265.37 L549.25,265.23 L549.50,265.37 L549.75,265.67 L550.00,265.28 L550.25,265.05 L550.50,265.00 L550.75,265.05 L551.00,264.96 L551.25,265.70 L551.50,265.47 L551.75,265.29 L552.00,265.79 L552.25,265.15 L552.50,265.57 L552.75,265.58 L553.00,264.87 L553.25,264.86 L553.50,265.04 L553.75,265.59 L554.00,265.70 L554.25,264.94 L554.50,265.62 L554.75,265.18 L555.00,265.17 L555.25,265.12 L555.50,265.18 L555.75,264.73 L556.00,264.97 L556.25,264.89 L556.50,265.41 L556.75,265.88 L557.00,266.07 L557.25,265.14 L557.50,264.72 L557.75,265.11 L558.00,264.95 L558.25,265.82 L558.50,265.39 L558.75,265.00 L559.00,265.49 L559.25,265.36 L559.50,264.71 L559.75,265.03 L560.00,265.12 L560.25,265.19 L560.50,265.22 L560.75,265.07 L561.00,265.22 L561.25,264.99 L561.50,264.89 L561.75,265.61 L562.00,265.26 L562.25,265.27 L562.50,264.66 L562.75,265.08 L563.00,265.37 L563.25,264.73 L563.50,265.45 L563.75,264.99 L564.00,265.23 L564.25,265.06 L564.50,265.16 L564.75,265.45 L565.00,264.96 L565.25,265.55 L565.50,264.84 L565.75,264.79 L566.00,265.28 L566.25,264.74 L566.50,264.94 L566.75,265.32 L567.00,265.41 L567.25,264.51 L567.50,265.19 L567.75,265.59 L568.00,265.02 L568.25,264.39 L568.50,264.27 L568.75,264.73 L569.00,265.01 L569.25,266.14 L569.50,264.00 L569.75,264.45 L570.00,264.42 L570.25,265.15 L570.50,267.76 L570.75,268.39 L571.00,264.77 L571.25,266.95 L571.50,268.19 L571.75,265.16 L572.00,264.74 L572.25,266.02 L572.50,263.48 L572.75,265.80 L573.00,265.42 L573.25,263.95 L573.50,262.91 L573.75,261.82 L574.00,264.39 L574.25,264.01 L574.50,266.62 L574.75,261.79 L575.00,259.30 L575.25,256.88 L575.50,254.56 L575.75,259.99 L576.00,267.24 L576.25,272.38 L576.50,267.39 L576.75,269.75 L577.00,266.88 L577.25,264.14 L577.50,264.24 L577.75,265.78 L578.00,263.59 L578.25,265.01 L578.50,261.78 L578.75,261.68 L579.00,263.66 L579.25,262.80 L579.50,259.90 L579.75,261.34 L580.00,263.86 L580.25,267.62 L580.50,265.99 L580.75,271.65 L581.00,266.22 L581.25,267.07 L581.50,264.51 L581.75,263.78 L582.00,259.82 L582.25,256.45 L582.50,253.91 L582.75,256.26 L583.00,260.75 L583.25,266.51 L583.50,264.61 L583.75,265.39 L584.00,265.84 L584.25,270.00 L584.50,265.80 L584.75,265.75 L585.00,264.97 L585.25,267.20 L585.50,263.31 L585.75,264.34 L586.00,264.24 L586.25,263.49 L586.50,266.52 L586.75,263.13 L587.00,264.77 L587.25,265.34 L587.50,264.49 L587.75,264.38 L588.00,264.40 L588.25,264.28 L588.50,264.31 L588.75,264.53 L589.00,265.02 L589.25,264.59 L589.50,264.43 L589.75,264.09 L590.00,264.63 L590.25,264.56 L590.50,264.19 L590.75,264.23 L591.00,264.54 L591.25,264.85 L591.50,264.73 L591.75,264.60 L592.00,264.43 L592.25,264.62 L592.50,264.52 L592.75,265.17 L593.00,264.17 L593.25,264.39 L593.50,264.88 L593.75,264.41 L594.00,264.92 L594.25,264.47 L594.50,264.52 L594.75,264.36 L595.00,264.05 L595.25,264.17 L595.50,265.12 L595.75,264.65 L596.00,264.63 L596.25,264.73 L596.50,264.61 L596.75,264.74 L597.00,264.35 L597.25,264.35 L597.50,264.71 L597.75,264.31 L598.00,264.01 L598.25,264.33 L598.50,264.23 L598.75,264.57 L599.00,264.17 L599.25,264.06 L599.50,264.28 L599.75,264.84 L600.00,264.35 L600.25,264.41 L600.50,264.36 L600.75,264.44 L601.00,264.62 L601.25,264.76 L601.50,263.84 L601.75,264.74 L602.00,264.32 L602.25,264.22 L602.50,265.03 L602.75,264.26 L603.00,264.89 L603.25,264.59 L603.50,263.98 L603.75,264.43 L604.00,264.50 L604.25,264.24 L604.50,263.57 L604.75,264.16 L605.00,264.20 L605.25,263.92 L605.50,264.80 L605.75,264.17 L606.00,264.12 L606.25,264.15 L606.50,264.00 L606.75,263.99 L607.00,264.25 L607.25,264.31 L607.50,264.06 L607.75,264.18 L608.00,263.78 L608.25,264.36 L608.50,263.98 L608.75,264.26 L609.00,263.93 L609.30,264.30 L610.50,266.00 L611.60,270.50 L612.60,266.50 L613.50,268.00 L614.60,275.60 L615.50,267.00 L617.00,266.50 L618.50,265.20 L620.00,267.00 L621.00,265.50 L622.20,266.20 L623.50,270.00 L624.60,274.70 L625.60,268.00 L626.90,272.80 L628.00,267.50 L629.50,278.80 L630.30,270.00 L631.00,267.20 L632.20,276.00 L633.40,285.80 L634.10,278.00 L634.80,289.00 L635.60,280.00 L636.30,274.00 L637.00,287.20 L637.80,276.00 L639.00,270.00 L639.60,277.00 L640.30,284.90 L641.20,272.00 L642.50,268.00 L643.50,266.00 L645.40,264.00 L647.00,266.50 L648.50,267.50 L650.00,269.00 L651.40,271.90 L652.50,265.00 L653.80,262.10 L654.80,268.00 L655.50,263.00 L656.20,270.00 L657.00,271.00 L657.80,262.00 L658.40,266.00 L658.90,259.40 L659.50,262.00" stroke="#2a6fe0" stroke-width="1.1" fill="none" stroke-linejoin="round" />
<path d="M481.50,292.20 L481.75,292.20 L482.00,292.20 L482.25,292.20 L482.50,292.20 L482.75,292.20 L483.00,292.20 L483.25,292.20 L483.50,292.20 L483.75,292.20 L484.00,292.20 L484.25,292.20 L484.50,292.20 L484.75,292.20 L485.00,292.20 L485.25,292.20 L485.50,292.20 L485.75,292.20 L486.00,292.20 L486.25,292.20 L486.50,292.20 L486.75,292.20 L487.00,292.20 L487.25,292.20 L487.50,292.20 L487.75,292.20 L488.00,292.20 L488.25,292.20 L488.50,292.20 L488.75,292.20 L489.00,292.20 L489.25,292.20 L489.50,292.20 L489.75,292.20 L490.00,292.20 L490.25,292.20 L490.50,292.20 L490.75,292.20 L491.00,292.20 L491.25,292.20 L491.50,292.20 L491.75,292.20 L492.00,292.20 L492.25,292.20 L492.50,292.20 L492.75,292.20 L493.00,292.20 L493.25,292.20 L493.50,292.21 L493.75,292.21 L494.00,292.21 L494.25,292.21 L494.50,292.21 L494.75,292.22 L495.00,292.22 L495.25,292.22 L495.50,292.23 L495.75,292.23 L496.00,292.24 L496.25,292.24 L496.50,292.25 L496.75,292.26 L497.00,292.27 L497.25,292.28 L497.50,292.30 L497.75,292.31 L498.00,292.33 L498.25,292.35 L498.50,292.37 L498.75,292.40 L499.00,292.43 L499.25,292.46 L499.50,292.50 L499.75,292.54 L500.00,292.59 L500.25,292.64 L500.50,292.70 L500.75,292.76 L501.00,292.84 L501.25,292.91 L501.50,293.00 L501.75,293.10 L502.00,293.20 L502.25,293.31 L502.50,293.43 L502.75,293.57 L503.00,293.71 L503.25,293.86 L503.50,294.03 L503.75,294.20 L504.00,294.39 L504.25,294.59 L504.50,294.80 L504.75,295.02 L505.00,295.25 L505.25,295.49 L505.50,295.75 L505.75,296.01 L506.00,296.29 L506.25,296.57 L506.50,296.86 L506.75,297.15 L507.00,297.46 L507.25,297.76 L507.50,298.07 L507.75,298.38 L508.00,298.70 L508.25,299.01 L508.50,299.32 L508.75,299.62 L509.00,299.92 L509.25,300.20 L509.50,300.48 L509.75,300.75 L510.00,301.00 L510.25,301.24 L510.50,301.46 L510.75,301.67 L511.00,301.85 L511.25,302.01 L511.50,302.15 L511.75,302.26 L512.00,302.35 L512.25,302.42 L512.50,302.45 L512.75,302.47 L513.00,302.45 L513.25,302.41 L513.50,302.33 L513.75,302.23 L514.00,302.11 L514.25,301.96 L514.50,301.78 L514.75,301.57 L515.00,301.35 L515.25,301.10 L515.50,300.82 L515.75,300.53 L516.00,300.22 L516.25,299.89 L516.50,299.55 L516.75,299.19 L517.00,298.82 L517.25,298.44 L517.50,298.06 L517.75,297.68 L518.00,297.29 L518.25,296.90 L518.50,296.52 L518.75,296.14 L519.00,295.77 L519.25,295.42 L519.50,295.07 L519.75,294.74 L520.00,294.43 L520.25,294.14 L520.50,293.87 L520.75,293.62 L521.00,293.38 L521.25,293.17 L521.50,292.99 L521.75,292.82 L522.00,292.68 L522.25,292.55 L522.50,292.45 L522.75,292.37 L523.00,292.32 L523.25,292.31 L523.50,292.34 L523.75,292.43 L524.00,292.60 L524.25,292.87 L524.50,293.24 L524.75,293.71 L525.00,294.23 L525.25,294.76 L525.50,295.21 L525.75,295.52 L526.00,295.64 L526.25,295.54 L526.50,295.25 L526.75,294.81 L527.00,294.30 L527.25,293.79 L527.50,293.33 L527.75,292.96 L528.00,292.68 L528.25,292.49 L528.50,292.38 L528.75,292.31 L529.00,292.28 L529.25,292.28 L529.50,292.29 L529.75,292.32 L530.00,292.36 L530.25,292.42 L530.50,292.50 L530.75,292.61 L531.00,292.74 L531.25,292.91 L531.50,293.12 L531.75,293.38 L532.00,293.69 L532.25,294.05 L532.50,294.46 L532.75,294.92 L533.00,295.42 L533.25,295.96 L533.50,296.52 L533.75,297.09 L534.00,297.65 L534.25,298.17 L534.50,298.65 L534.75,299.05 L535.00,299.37 L535.25,299.59 L535.50,299.69 L535.75,299.68 L536.00,299.55 L536.25,299.31 L536.50,298.98 L536.75,298.56 L537.00,298.07 L537.25,297.54 L537.50,296.98 L537.75,296.41 L538.00,295.85 L538.25,295.32 L538.50,294.82 L538.75,294.37 L539.00,293.97 L539.25,293.62 L539.50,293.32 L539.75,293.07 L540.00,292.43 L540.25,292.77 L540.50,292.49 L540.75,292.33 L541.00,292.69 L541.25,292.36 L541.50,292.21 L541.75,292.81 L542.00,292.10 L542.25,291.85 L542.50,291.81 L542.75,292.05 L543.00,292.41 L543.25,292.46 L543.50,292.54 L543.75,292.76 L544.00,292.72 L544.25,292.40 L544.50,292.61 L544.75,292.41 L545.00,292.04 L545.25,292.46 L545.50,292.23 L545.75,292.15 L546.00,292.82 L546.25,292.45 L546.50,292.07 L546.75,292.19 L547.00,292.92 L547.25,292.14 L547.50,292.44 L547.75,292.40 L548.00,292.37 L548.25,292.39 L548.50,292.07 L548.75,292.08 L549.00,292.17 L549.25,292.11 L549.50,292.46 L549.75,292.69 L550.00,291.95 L550.25,292.38 L550.50,291.92 L550.75,292.01 L551.00,292.14 L551.25,292.25 L551.50,292.08 L551.75,291.42 L552.00,292.64 L552.25,292.13 L552.50,292.02 L552.75,292.42 L553.00,292.04 L553.25,291.78 L553.50,292.37 L553.75,292.34 L554.00,291.97 L554.25,292.47 L554.50,292.33 L554.75,291.87 L555.00,292.75 L555.25,292.30 L555.50,291.87 L555.75,292.35 L556.00,292.26 L556.25,292.51 L556.50,291.81 L556.75,292.53 L557.00,292.50 L557.25,292.43 L557.50,292.40 L557.75,292.62 L558.00,292.43 L558.25,292.26 L558.50,291.96 L558.75,292.55 L559.00,292.52 L559.25,292.31 L559.50,292.26 L559.75,292.44 L560.00,291.45 L560.25,292.57 L560.50,291.74 L560.75,292.59 L561.00,292.83 L561.25,293.06 L561.50,292.30 L561.75,292.51 L562.00,292.30 L562.25,291.57 L562.50,292.39 L562.75,292.09 L563.00,292.05 L563.25,291.69 L563.50,291.93 L563.75,291.94 L564.00,292.30 L564.25,292.02 L564.50,293.03 L564.75,291.89 L565.00,291.99 L565.25,292.13 L565.50,291.97 L565.75,292.75 L566.00,292.56 L566.25,292.03 L566.50,292.50 L566.75,292.85 L567.00,292.08 L567.25,292.55 L567.50,292.41 L567.75,293.15 L568.00,292.52 L568.25,292.20 L568.50,292.08 L568.75,292.75 L569.00,291.96 L569.25,292.73 L569.50,291.51 L569.75,291.89 L570.00,291.85 L570.25,291.70 L570.50,291.86 L570.75,292.17 L571.00,291.80 L571.25,291.63 L571.50,292.54 L571.75,292.65 L572.00,292.07 L572.25,292.45 L572.50,291.63 L572.75,292.78 L573.00,292.09 L573.25,292.34 L573.50,293.17 L573.75,292.11 L574.00,292.46 L574.25,292.07 L574.50,291.77 L574.75,291.91 L575.00,292.27 L575.25,291.72 L575.50,291.87 L575.75,292.21 L576.00,291.90 L576.25,291.52 L576.50,292.37 L576.75,291.96 L577.00,292.38 L577.25,291.68 L577.50,292.57 L577.75,291.71 L578.00,291.67 L578.25,292.14 L578.50,292.23 L578.75,292.49 L579.00,292.29 L579.25,292.69 L579.50,292.92 L579.75,292.31 L580.00,292.07 L580.25,292.33 L580.50,292.65 L580.75,292.59 L581.00,292.17 L581.25,291.90 L581.50,292.12 L581.75,292.35 L582.00,291.78 L582.25,292.35 L582.50,291.99 L582.75,292.00 L583.00,291.73 L583.25,292.36 L583.50,292.00 L583.75,291.59 L584.00,292.36 L584.25,292.06 L584.50,292.59 L584.75,292.39 L585.00,292.21 L585.25,292.50 L585.50,292.34 L585.75,292.26 L586.00,292.52 L586.25,292.75 L586.50,292.48 L586.75,292.39 L587.00,292.18 L587.25,292.45 L587.50,292.29 L587.75,292.42 L588.00,292.17 L588.25,292.65 L588.50,291.48 L588.75,291.91 L589.00,292.08 L589.25,292.19 L589.50,291.48 L589.75,291.61 L590.00,292.03 L590.25,292.42 L590.50,292.51 L590.75,291.79 L591.00,292.36 L591.25,292.75 L591.50,292.45 L591.75,292.17 L592.00,292.60 L595.00,293.00 L598.00,294.50 L601.00,297.00 L604.00,300.90 L605.90,296.40 L607.50,298.00 L609.00,306.00 L610.90,315.00 L611.60,312.50 L612.40,318.80 L613.50,305.00 L614.80,296.00 L615.90,294.40 L617.00,300.00 L618.40,315.30 L619.30,300.00 L620.30,291.50 L622.50,293.00 L623.80,300.00 L624.80,308.90 L625.60,306.00 L626.60,321.30 L627.60,302.00 L628.80,294.40 L630.80,295.40 L632.50,300.00 L634.30,314.80 L635.80,300.00 L637.70,292.00 L639.20,294.00 L640.70,296.00 L642.20,293.50 L643.70,294.00 L645.00,300.00 L646.20,314.80 L647.20,300.00 L648.20,292.00 L649.50,308.90 L650.30,298.00 L651.20,292.00 L654.00,292.60 L657.00,293.40 L659.50,294.40" stroke="#f03838" stroke-width="1.0" fill="none" stroke-linejoin="round" />
<path d="M481.50,320.40 L481.75,320.40 L482.00,320.40 L482.25,320.40 L482.50,320.40 L482.75,320.40 L483.00,320.40 L483.25,320.40 L483.50,320.40 L483.75,320.40 L484.00,320.40 L484.25,320.40 L484.50,320.40 L484.75,320.40 L485.00,320.40 L485.25,320.40 L485.50,320.40 L485.75,320.40 L486.00,320.40 L486.25,320.40 L486.50,320.40 L486.75,320.40 L487.00,320.40 L487.25,320.40 L487.50,320.40 L487.75,320.40 L488.00,320.40 L488.25,320.40 L488.50,320.40 L488.75,320.40 L489.00,320.40 L489.25,320.40 L489.50,320.40 L489.75,320.40 L490.00,320.40 L490.25,320.40 L490.50,320.40 L490.75,320.40 L491.00,320.40 L491.25,320.40 L491.50,320.41 L491.75,320.41 L492.00,320.41 L492.25,320.41 L492.50,320.41 L492.75,320.41 L493.00,320.42 L493.25,320.42 L493.50,320.42 L493.75,320.43 L494.00,320.43 L494.25,320.44 L494.50,320.44 L494.75,320.45 L495.00,320.46 L495.25,320.47 L495.50,320.48 L495.75,320.50 L496.00,320.51 L496.25,320.53 L496.50,320.55 L496.75,320.57 L497.00,320.59 L497.25,320.62 L497.50,320.65 L497.75,320.68 L498.00,320.72 L498.25,320.76 L498.50,320.81 L498.75,320.86 L499.00,320.91 L499.25,320.97 L499.50,321.04 L499.75,321.11 L500.00,321.19 L500.25,321.28 L500.50,321.37 L500.75,321.47 L501.00,321.57 L501.25,321.68 L501.50,321.80 L501.75,321.93 L502.00,322.06 L502.25,322.21 L502.50,322.35 L502.75,322.51 L503.00,322.67 L503.25,322.84 L503.50,323.02 L503.75,323.20 L504.00,323.38 L504.25,323.57 L504.50,323.77 L504.75,323.96 L505.00,324.16 L505.25,324.36 L505.50,324.56 L505.75,324.76 L506.00,324.96 L506.25,325.15 L506.50,325.34 L506.75,325.53 L507.00,325.71 L507.25,325.88 L507.50,326.04 L507.75,326.20 L508.00,326.34 L508.25,326.47 L508.50,326.59 L508.75,326.69 L509.00,326.78 L509.25,326.86 L509.50,326.92 L509.75,326.96 L510.00,326.99 L510.25,327.00 L510.50,326.99 L510.75,326.97 L511.00,326.94 L511.25,326.88 L511.50,326.81 L511.75,326.73 L512.00,326.63 L512.25,326.52 L512.50,326.39 L512.75,326.25 L513.00,326.10 L513.25,325.95 L513.50,325.78 L513.75,325.60 L514.00,325.42 L514.25,325.23 L514.50,325.04 L514.75,324.84 L515.00,324.64 L515.25,324.44 L515.50,324.24 L515.75,324.04 L516.00,323.85 L516.25,323.65 L516.50,323.46 L516.75,323.27 L517.00,323.09 L517.25,322.91 L517.50,322.74 L517.75,322.57 L518.00,322.42 L518.25,322.26 L518.50,322.12 L518.75,321.98 L519.00,321.85 L519.25,321.73 L519.50,321.61 L519.75,321.51 L520.00,321.41 L520.25,321.31 L520.50,321.22 L520.75,321.14 L521.00,321.07 L521.25,321.00 L521.50,320.94 L521.75,320.88 L522.00,320.83 L522.25,320.78 L522.50,320.74 L522.75,320.70 L523.00,320.66 L523.25,320.64 L523.50,320.62 L523.75,320.63 L524.00,320.68 L524.25,320.78 L524.50,320.95 L524.75,321.18 L525.00,321.42 L525.25,321.60 L525.50,321.66 L525.75,321.58 L526.00,321.38 L526.25,321.12 L526.50,320.87 L526.75,320.67 L527.00,320.55 L527.25,320.47 L527.50,320.44 L527.75,320.42 L528.00,320.41 L528.25,320.41 L528.50,320.41 L528.75,320.41 L529.00,320.41 L529.25,320.41 L529.50,320.40 L529.75,320.40 L530.00,320.40 L530.25,320.40 L530.50,320.40 L530.75,320.40 L531.00,320.40 L531.25,320.40 L531.50,320.40 L531.75,320.40 L532.00,320.40 L532.25,320.40 L532.50,320.40 L532.75,320.40 L533.00,320.41 L533.25,320.42 L533.50,320.44 L533.75,320.48 L534.00,320.55 L534.25,320.67 L534.50,320.85 L534.75,321.09 L535.00,321.37 L535.25,321.67 L535.50,321.94 L535.75,322.13 L536.00,322.20 L536.25,322.13 L536.50,321.94 L536.75,321.67 L537.00,321.37 L537.25,321.09 L537.50,320.85 L537.75,320.67 L538.00,320.55 L538.25,320.48 L538.50,320.44 L538.75,320.42 L539.00,320.41 L539.25,320.40 L539.50,320.40 L539.75,320.40 L540.00,320.39 L540.25,320.63 L540.50,320.28 L540.75,320.13 L541.00,320.44 L541.25,320.50 L541.50,320.46 L541.75,320.49 L542.00,320.39 L542.25,320.32 L542.50,320.30 L542.75,320.38 L543.00,320.36 L543.25,320.55 L543.50,320.51 L543.75,320.22 L544.00,320.52 L544.25,320.41 L544.50,320.58 L544.75,320.64 L545.00,320.50 L545.25,320.15 L545.50,320.51 L545.75,320.18 L546.00,320.65 L546.25,320.32 L546.50,320.39 L546.75,320.69 L547.00,320.15 L547.25,320.42 L547.50,320.25 L547.75,320.34 L548.00,320.30 L548.25,320.52 L548.50,320.37 L548.75,320.47 L549.00,320.51 L549.25,320.16 L549.50,320.63 L549.75,320.38 L550.00,320.17 L550.25,320.32 L550.50,320.55 L550.75,320.57 L551.00,320.31 L551.25,320.43 L551.50,320.45 L551.75,320.57 L552.00,320.40 L552.25,320.57 L552.50,320.28 L552.75,320.31 L553.00,320.52 L553.25,320.53 L553.50,320.41 L553.75,320.51 L554.00,320.45 L554.25,320.53 L554.50,320.60 L554.75,320.50 L555.00,320.54 L555.25,320.36 L555.50,320.33 L555.75,320.06 L556.00,320.48 L556.25,320.42 L556.50,320.50 L556.75,320.13 L557.00,320.34 L557.25,320.33 L557.50,320.14 L557.75,320.56 L558.00,320.60 L558.25,320.22 L558.50,320.49 L558.75,320.68 L559.00,320.23 L559.25,320.57 L559.50,320.66 L559.75,320.70 L560.00,320.21 L560.25,320.25 L560.50,320.45 L560.75,320.60 L561.00,320.22 L561.25,320.30 L561.50,320.25 L561.75,320.59 L562.00,320.33 L562.25,320.51 L562.50,320.52 L562.75,320.60 L563.00,320.48 L563.25,320.47 L563.50,320.60 L563.75,320.49 L564.00,320.22 L564.25,320.34 L564.50,320.56 L564.75,320.44 L565.00,320.36 L565.25,320.46 L565.50,320.93 L565.75,320.41 L566.00,320.49 L566.25,320.49 L566.50,320.38 L566.75,320.60 L567.00,320.55 L567.25,320.48 L567.50,320.21 L567.75,320.61 L568.00,320.54 L568.25,320.40 L568.50,320.00 L568.75,320.41 L569.00,320.23 L569.25,320.38 L569.50,320.34 L569.75,320.29 L570.00,320.57 L570.25,320.44 L570.50,320.61 L570.75,320.27 L571.00,320.39 L571.25,320.63 L571.50,320.47 L571.75,320.31 L572.00,320.28 L572.25,320.33 L572.50,320.40 L572.75,320.52 L573.00,320.44 L573.25,320.53 L573.50,320.55 L573.75,320.44 L574.00,320.62 L574.25,320.53 L574.50,320.39 L574.75,320.39 L575.00,320.41 L575.25,320.30 L575.50,320.21 L575.75,320.42 L576.00,320.34 L576.25,320.51 L576.50,320.33 L576.75,320.43 L577.00,320.45 L577.25,320.34 L577.50,320.45 L577.75,320.31 L578.00,320.35 L578.25,320.54 L578.50,320.48 L578.75,320.42 L579.00,320.30 L579.25,320.52 L579.50,320.72 L579.75,320.08 L580.00,320.58 L580.25,320.45 L580.50,320.59 L580.75,320.60 L581.00,320.26 L581.25,320.68 L581.50,320.33 L581.75,320.38 L582.00,320.51 L582.25,320.40 L582.50,320.46 L582.75,320.34 L583.00,320.26 L583.25,320.42 L583.50,320.25 L583.75,320.62 L584.00,320.45 L584.25,320.63 L584.50,320.22 L584.75,320.10 L585.00,320.07 L585.25,320.36 L585.50,320.22 L585.75,320.47 L586.00,320.19 L586.25,320.20 L586.50,320.46 L586.75,320.36 L587.00,320.52 L587.25,320.54 L587.50,320.47 L587.75,320.23 L588.00,320.28 L588.25,320.76 L588.50,320.38 L588.75,320.46 L589.00,320.44 L589.25,320.41 L589.50,320.39 L589.75,320.33 L590.00,320.34 L590.25,320.11 L590.50,320.67 L590.75,320.40 L591.00,320.21 L591.25,320.50 L591.50,320.52 L591.75,320.19 L592.00,320.34 L595.00,320.30 L598.00,322.00 L601.00,323.80 L604.40,325.80 L605.90,322.30 L607.80,325.00 L609.50,330.00 L610.90,334.20 L611.60,333.00 L612.40,338.70 L613.60,328.00 L614.90,320.80 L616.50,324.00 L618.40,334.70 L619.30,325.00 L620.30,319.30 L622.50,321.00 L623.80,325.00 L624.80,329.70 L625.60,328.00 L626.60,339.50 L627.50,327.00 L628.30,320.30 L630.50,321.00 L632.50,325.00 L634.30,333.70 L635.80,325.00 L637.20,319.30 L640.00,320.00 L643.00,320.50 L645.00,325.00 L646.20,334.20 L647.70,320.30 L649.50,330.70 L650.70,320.30 L655.00,320.80 L659.50,321.30" stroke="#4a4a4a" stroke-width="1.0" fill="none" stroke-linejoin="round" />
<line x1="503.2" y1="285.5" x2="510.8" y2="277.3" stroke="#111" stroke-width="0.9" />
<path d="M510.80,277.30 L509.80,280.73 L507.45,278.56 Z" fill="#111"/>
<line x1="528.5" y1="285.5" x2="536" y2="277.3" stroke="#111" stroke-width="0.9" />
<path d="M536.00,277.30 L535.02,280.74 L532.66,278.58 Z" fill="#111"/>
<line x1="502.8" y1="312.8" x2="510.8" y2="303.7" stroke="#111" stroke-width="0.9" />
<path d="M510.80,303.70 L509.89,307.16 L507.49,305.05 Z" fill="#111"/>
<line x1="524.4" y1="312.8" x2="532.3" y2="303.7" stroke="#111" stroke-width="0.9" />
<path d="M532.30,303.70 L531.41,307.17 L528.99,305.07 Z" fill="#111"/>
<text x="560.2" y="260.4" font-size="10" text-anchor="middle" font-weight="normal" fill="#111" textLength="17.5" lengthAdjust="spacingAndGlyphs" >DHA</text>
<text x="563.4" y="288.5" font-size="10" text-anchor="middle" font-weight="normal" fill="#111" textLength="33.5" lengthAdjust="spacingAndGlyphs" >ZIF-DHA</text>
<text x="561.6" y="315.5" font-size="10" text-anchor="middle" font-weight="normal" fill="#111" textLength="11.8" lengthAdjust="spacingAndGlyphs" >ZIF</text>
<rect x="481.5" y="233.1" width="178.0" height="128.9" fill="none" stroke="#333" stroke-width="1" />
<line x1="659.5" y1="362" x2="659.5" y2="359.8" stroke="#333" stroke-width="0.8" />
<line x1="646.7857142857142" y1="362" x2="646.7857142857142" y2="360.6" stroke="#333" stroke-width="0.8" />
<line x1="634.0714285714286" y1="362" x2="634.0714285714286" y2="359.8" stroke="#333" stroke-width="0.8" />
<line x1="621.3571428571429" y1="362" x2="621.3571428571429" y2="360.6" stroke="#333" stroke-width="0.8" />
<line x1="608.6428571428571" y1="362" x2="608.6428571428571" y2="359.8" stroke="#333" stroke-width="0.8" />
<line x1="595.9285714285714" y1="362" x2="595.9285714285714" y2="360.6" stroke="#333" stroke-width="0.8" />
<line x1="583.2142857142857" y1="362" x2="583.2142857142857" y2="359.8" stroke="#333" stroke-width="0.8" />
<line x1="570.5" y1="362" x2="570.5" y2="360.6" stroke="#333" stroke-width="0.8" />
<line x1="557.7857142857143" y1="362" x2="557.7857142857143" y2="359.8" stroke="#333" stroke-width="0.8" />
<line x1="545.0714285714286" y1="362" x2="545.0714285714286" y2="360.6" stroke="#333" stroke-width="0.8" />
<line x1="532.3571428571429" y1="362" x2="532.3571428571429" y2="359.8" stroke="#333" stroke-width="0.8" />
<line x1="519.6428571428571" y1="362" x2="519.6428571428571" y2="360.6" stroke="#333" stroke-width="0.8" />
<line x1="506.92857142857144" y1="362" x2="506.92857142857144" y2="359.8" stroke="#333" stroke-width="0.8" />
<line x1="494.2142857142857" y1="362" x2="494.2142857142857" y2="360.6" stroke="#333" stroke-width="0.8" />
<line x1="481.5" y1="362" x2="481.5" y2="359.8" stroke="#333" stroke-width="0.8" />
<text x="659.5" y="373.7" font-size="8.4" text-anchor="middle" font-weight="normal" fill="#111" textLength="12.4" lengthAdjust="spacingAndGlyphs" >500</text>
<text x="634.0714285714286" y="373.7" font-size="8.4" text-anchor="middle" font-weight="normal" fill="#111" textLength="16.6" lengthAdjust="spacingAndGlyphs" >1000</text>
<text x="608.6428571428571" y="373.7" font-size="8.4" text-anchor="middle" font-weight="normal" fill="#111" textLength="16.6" lengthAdjust="spacingAndGlyphs" >1500</text>
<text x="583.2142857142857" y="373.7" font-size="8.4" text-anchor="middle" font-weight="normal" fill="#111" textLength="16.6" lengthAdjust="spacingAndGlyphs" >2000</text>
<text x="557.7857142857143" y="373.7" font-size="8.4" text-anchor="middle" font-weight="normal" fill="#111" textLength="16.6" lengthAdjust="spacingAndGlyphs" >2500</text>
<text x="532.3571428571429" y="373.7" font-size="8.4" text-anchor="middle" font-weight="normal" fill="#111" textLength="16.6" lengthAdjust="spacingAndGlyphs" >3000</text>
<text x="506.92857142857144" y="373.7" font-size="8.4" text-anchor="middle" font-weight="normal" fill="#111" textLength="16.6" lengthAdjust="spacingAndGlyphs" >3500</text>
<text x="481.5" y="373.7" font-size="8.4" text-anchor="middle" font-weight="normal" fill="#111" textLength="16.6" lengthAdjust="spacingAndGlyphs" >4000</text>
<text x="532.8" y="390" font-size="9.6" fill="#111">Wavelength (cm<tspan font-size="6.5" dy="-4">-1</tspan><tspan dy="4">)</tspan></text>
<text x="472.5" y="298" font-size="9.5" text-anchor="middle" font-weight="normal" fill="#111" textLength="50.3" lengthAdjust="spacingAndGlyphs" transform="rotate(-90 472.5 298)" >Absorbance</text>
<path d="M22.00,556.50 C22.67,556.30 24.83,555.88 26.00,555.30 C27.17,554.72 28.17,554.55 29.00,553.00 C29.83,551.45 30.35,550.17 31.00,546.00 C31.65,541.83 32.32,537.33 32.90,528.00 C33.48,518.67 34.00,500.50 34.50,490.00 C35.00,479.50 35.40,471.00 35.90,465.00 C36.40,459.00 36.92,456.33 37.50,454.00 C38.08,451.67 38.82,451.25 39.40,451.00 C39.98,450.75 40.38,451.32 41.00,452.50 C41.62,453.68 42.35,455.18 43.10,458.10 C43.85,461.02 44.60,465.55 45.50,470.00 C46.40,474.45 47.62,480.63 48.50,484.80 C49.38,488.97 50.02,491.70 50.80,495.00 C51.58,498.30 52.13,501.33 53.20,504.60 C54.27,507.87 55.27,511.28 57.20,514.60 C59.13,517.92 61.22,521.18 64.80,524.50 C68.38,527.82 73.90,531.18 78.70,534.50 C83.50,537.82 88.63,541.42 93.60,544.40 C98.57,547.38 105.27,550.60 108.50,552.40 C111.73,554.20 111.83,554.22 113.00,555.20 C114.17,556.18 114.75,557.87 115.50,558.30 C116.25,558.73 116.83,558.18 117.50,557.80 C118.17,557.42 118.83,556.37 119.50,556.00 C120.17,555.63 119.75,555.52 121.50,555.60 C123.25,555.68 123.67,555.95 130.00,556.50 C136.33,557.05 148.50,558.00 159.50,558.90 C170.50,559.80 189.92,561.40 196.00,561.90" stroke="#f04040" stroke-width="0.9" fill="none" stroke-linejoin="round" />
<path d="M22.00,561.30 C22.67,561.25 24.83,561.13 26.00,561.00 C27.17,560.87 28.17,561.00 29.00,560.50 C29.83,560.00 30.43,560.58 31.00,558.00 C31.57,555.42 32.02,551.00 32.40,545.00 C32.78,539.00 33.03,527.17 33.30,522.00 C33.57,516.83 33.75,514.50 34.00,514.00 C34.25,513.50 34.50,515.50 34.80,519.00 C35.10,522.50 35.28,529.75 35.80,535.00 C36.32,540.25 37.12,547.08 37.90,550.50 C38.68,553.92 39.33,554.03 40.50,555.50 C41.67,556.97 43.48,558.35 44.90,559.30 C46.32,560.25 47.35,560.70 49.00,561.20 C50.65,561.70 51.30,562.03 54.80,562.30 C58.30,562.57 62.47,562.63 70.00,562.80 C77.53,562.97 79.00,563.05 100.00,563.30 C121.00,563.55 180.00,564.13 196.00,564.30" stroke="#333" stroke-width="0.9" fill="none" stroke-linejoin="round" />
<rect x="22" y="434.2" width="174" height="138.59999999999997" fill="none" stroke="#444" stroke-width="1" />
<line x1="22.0" y1="572.8" x2="22.0" y2="570.3" stroke="#444" stroke-width="0.8" />
<line x1="43.75" y1="572.8" x2="43.75" y2="571.3" stroke="#444" stroke-width="0.8" />
<line x1="65.5" y1="572.8" x2="65.5" y2="570.3" stroke="#444" stroke-width="0.8" />
<line x1="87.25" y1="572.8" x2="87.25" y2="571.3" stroke="#444" stroke-width="0.8" />
<line x1="109.0" y1="572.8" x2="109.0" y2="570.3" stroke="#444" stroke-width="0.8" />
<line x1="130.75" y1="572.8" x2="130.75" y2="571.3" stroke="#444" stroke-width="0.8" />
<line x1="152.5" y1="572.8" x2="152.5" y2="570.3" stroke="#444" stroke-width="0.8" />
<line x1="174.25" y1="572.8" x2="174.25" y2="571.3" stroke="#444" stroke-width="0.8" />
<line x1="196.0" y1="572.8" x2="196.0" y2="570.3" stroke="#444" stroke-width="0.8" />
<text x="22.0" y="586.8" font-size="12" text-anchor="middle" font-weight="normal" fill="#111" >200</text>
<text x="65.5" y="586.8" font-size="12" text-anchor="middle" font-weight="normal" fill="#111" >300</text>
<text x="109.0" y="586.8" font-size="12" text-anchor="middle" font-weight="normal" fill="#111" >400</text>
<text x="152.5" y="586.8" font-size="12" text-anchor="middle" font-weight="normal" fill="#111" >500</text>
<text x="196.0" y="586.8" font-size="12" text-anchor="middle" font-weight="normal" fill="#111" >600</text>
<text x="109.4" y="601.5" font-size="12" text-anchor="middle" font-weight="normal" fill="#111" textLength="91" lengthAdjust="spacingAndGlyphs" >Wavelength (nm)</text>
<text x="10.5" y="500.2" font-size="11" text-anchor="middle" font-weight="normal" fill="#111" textLength="73" lengthAdjust="spacingAndGlyphs" transform="rotate(-90 10.5 500.2)" >Intensity (a.u.)</text>
<line x1="72.1" y1="455.6" x2="87.4" y2="455.6" stroke="#777" stroke-width="1" />
<text x="94.1" y="460.9" font-size="10" text-anchor="start" font-weight="normal" fill="#222" textLength="12" lengthAdjust="spacingAndGlyphs" >ZIF</text>
<line x1="72.1" y1="470" x2="87.4" y2="470" stroke="#f04040" stroke-width="1" />
<text x="94.1" y="474.5" font-size="10" text-anchor="start" font-weight="normal" fill="#222" textLength="34" lengthAdjust="spacingAndGlyphs" >ZIF-DHA</text>
<rect x="257" y="433.2" width="174.3" height="139.2" fill="none" stroke="#222" stroke-width="1" />
<line x1="254" y1="572.4" x2="257" y2="572.4" stroke="#222" stroke-width="0.9" />
<line x1="255" y1="558.48" x2="257" y2="558.48" stroke="#222" stroke-width="0.9" />
<line x1="254" y1="544.56" x2="257" y2="544.56" stroke="#222" stroke-width="0.9" />
<line x1="255" y1="530.64" x2="257" y2="530.64" stroke="#222" stroke-width="0.9" />
<line x1="254" y1="516.72" x2="257" y2="516.72" stroke="#222" stroke-width="0.9" />
<line x1="255" y1="502.79999999999995" x2="257" y2="502.79999999999995" stroke="#222" stroke-width="0.9" />
<line x1="254" y1="488.88" x2="257" y2="488.88" stroke="#222" stroke-width="0.9" />
<line x1="255" y1="474.96" x2="257" y2="474.96" stroke="#222" stroke-width="0.9" />
<line x1="254" y1="461.03999999999996" x2="257" y2="461.03999999999996" stroke="#222" stroke-width="0.9" />
<line x1="255" y1="447.12" x2="257" y2="447.12" stroke="#222" stroke-width="0.9" />
<line x1="254" y1="433.2" x2="257" y2="433.2" stroke="#222" stroke-width="0.9" />
<text x="251.7" y="576.6999999999999" font-size="12" text-anchor="end" font-weight="normal" fill="#111" >0</text>
<text x="251.7" y="548.8599999999999" font-size="12" text-anchor="end" font-weight="normal" fill="#111" >20</text>
<text x="251.7" y="521.02" font-size="12" text-anchor="end" font-weight="normal" fill="#111" >40</text>
<text x="251.7" y="493.18" font-size="12" text-anchor="end" font-weight="normal" fill="#111" >60</text>
<text x="251.7" y="465.34" font-size="12" text-anchor="end" font-weight="normal" fill="#111" >80</text>
<text x="251.7" y="437.5" font-size="12" text-anchor="end" font-weight="normal" fill="#111" >100</text>
<line x1="257.0" y1="572.4" x2="257.0" y2="575.4" stroke="#222" stroke-width="0.9" />
<line x1="274.43" y1="572.4" x2="274.43" y2="574.4" stroke="#222" stroke-width="0.9" />
<line x1="291.86" y1="572.4" x2="291.86" y2="575.4" stroke="#222" stroke-width="0.9" />
<line x1="309.29" y1="572.4" x2="309.29" y2="574.4" stroke="#222" stroke-width="0.9" />
<line x1="326.72" y1="572.4" x2="326.72" y2="575.4" stroke="#222" stroke-width="0.9" />
<line x1="344.15" y1="572.4" x2="344.15" y2="574.4" stroke="#222" stroke-width="0.9" />
<line x1="361.58" y1="572.4" x2="361.58" y2="575.4" stroke="#222" stroke-width="0.9" />
<line x1="379.01" y1="572.4" x2="379.01" y2="574.4" stroke="#222" stroke-width="0.9" />
<line x1="396.44" y1="572.4" x2="396.44" y2="575.4" stroke="#222" stroke-width="0.9" />
<line x1="413.87" y1="572.4" x2="413.87" y2="574.4" stroke="#222" stroke-width="0.9" />
<line x1="431.3" y1="572.4" x2="431.3" y2="575.4" stroke="#222" stroke-width="0.9" />
<text x="257.0" y="586.1" font-size="12" text-anchor="middle" font-weight="normal" fill="#111" >0</text>
<text x="291.86" y="586.1" font-size="12" text-anchor="middle" font-weight="normal" fill="#111" >10</text>
<text x="326.72" y="586.1" font-size="12" text-anchor="middle" font-weight="normal" fill="#111" >20</text>
<text x="361.58" y="586.1" font-size="12" text-anchor="middle" font-weight="normal" fill="#111" >30</text>
<text x="396.44" y="586.1" font-size="12" text-anchor="middle" font-weight="normal" fill="#111" >40</text>
<text x="431.3" y="586.1" font-size="12" text-anchor="middle" font-weight="normal" fill="#111" >50</text>
<text x="344.2" y="601.0" font-size="12" text-anchor="middle" font-weight="normal" fill="#111" textLength="42.5" lengthAdjust="spacingAndGlyphs" >Time (h)</text>
<path d="M263.97,571.01 L277.92,569.62 L284.89,567.53 L291.86,565.44 L298.83,562.66 L340.66,559.87 L382.50,557.78 L424.33,555.70" stroke="#555" stroke-width="0.9" fill="none" stroke-linejoin="round" />
<line x1="263.972" y1="568.92" x2="263.972" y2="573.0959999999999" stroke="#555" stroke-width="0.9" />
<line x1="262.472" y1="568.92" x2="265.472" y2="568.92" stroke="#555" stroke-width="0.9" />
<line x1="262.472" y1="573.0959999999999" x2="265.472" y2="573.0959999999999" stroke="#555" stroke-width="0.9" />
<line x1="277.916" y1="567.528" x2="277.916" y2="571.704" stroke="#555" stroke-width="0.9" />
<line x1="276.416" y1="567.528" x2="279.416" y2="567.528" stroke="#555" stroke-width="0.9" />
<line x1="276.416" y1="571.704" x2="279.416" y2="571.704" stroke="#555" stroke-width="0.9" />
<line x1="284.888" y1="564.744" x2="284.888" y2="570.312" stroke="#555" stroke-width="0.9" />
<line x1="283.388" y1="564.744" x2="286.388" y2="564.744" stroke="#555" stroke-width="0.9" />
<line x1="283.388" y1="570.312" x2="286.388" y2="570.312" stroke="#555" stroke-width="0.9" />
<line x1="291.86" y1="562.656" x2="291.86" y2="568.2239999999999" stroke="#555" stroke-width="0.9" />
<line x1="290.36" y1="562.656" x2="293.36" y2="562.656" stroke="#555" stroke-width="0.9" />
<line x1="290.36" y1="568.2239999999999" x2="293.36" y2="568.2239999999999" stroke="#555" stroke-width="0.9" />
<line x1="298.832" y1="559.872" x2="298.832" y2="565.4399999999999" stroke="#555" stroke-width="0.9" />
<line x1="297.332" y1="559.872" x2="300.332" y2="559.872" stroke="#555" stroke-width="0.9" />
<line x1="297.332" y1="565.4399999999999" x2="300.332" y2="565.4399999999999" stroke="#555" stroke-width="0.9" />
<line x1="340.664" y1="557.088" x2="340.664" y2="562.656" stroke="#555" stroke-width="0.9" />
<line x1="339.164" y1="557.088" x2="342.164" y2="557.088" stroke="#555" stroke-width="0.9" />
<line x1="339.164" y1="562.656" x2="342.164" y2="562.656" stroke="#555" stroke-width="0.9" />
<line x1="382.496" y1="555.0" x2="382.496" y2="560.568" stroke="#555" stroke-width="0.9" />
<line x1="380.996" y1="555.0" x2="383.996" y2="555.0" stroke="#555" stroke-width="0.9" />
<line x1="380.996" y1="560.568" x2="383.996" y2="560.568" stroke="#555" stroke-width="0.9" />
<line x1="424.32800000000003" y1="552.216" x2="424.32800000000003" y2="559.176" stroke="#555" stroke-width="0.9" />
<line x1="422.82800000000003" y1="552.216" x2="425.82800000000003" y2="552.216" stroke="#555" stroke-width="0.9" />
<line x1="422.82800000000003" y1="559.176" x2="425.82800000000003" y2="559.176" stroke="#555" stroke-width="0.9" />
<circle cx="263.97" cy="571.01" r="4.0" fill="#fff" fill-opacity="0.85" stroke="#555" stroke-width="1"/>
<line x1="262.772" y1="569.8079999999999" x2="265.17199999999997" y2="569.8079999999999" stroke="#555" stroke-width="0.7" />
<line x1="262.772" y1="572.208" x2="265.17199999999997" y2="572.208" stroke="#555" stroke-width="0.7" />
<circle cx="277.92" cy="569.62" r="4.0" fill="#fff" fill-opacity="0.85" stroke="#555" stroke-width="1"/>
<line x1="276.716" y1="568.4159999999999" x2="279.116" y2="568.4159999999999" stroke="#555" stroke-width="0.7" />
<line x1="276.716" y1="570.816" x2="279.116" y2="570.816" stroke="#555" stroke-width="0.7" />
<circle cx="284.89" cy="567.53" r="4.0" fill="#fff" fill-opacity="0.85" stroke="#555" stroke-width="1"/>
<line x1="283.688" y1="566.328" x2="286.08799999999997" y2="566.328" stroke="#555" stroke-width="0.7" />
<line x1="283.688" y1="568.7280000000001" x2="286.08799999999997" y2="568.7280000000001" stroke="#555" stroke-width="0.7" />
<circle cx="291.86" cy="565.44" r="4.0" fill="#fff" fill-opacity="0.85" stroke="#555" stroke-width="1"/>
<line x1="290.66" y1="564.2399999999999" x2="293.06" y2="564.2399999999999" stroke="#555" stroke-width="0.7" />
<line x1="290.66" y1="566.64" x2="293.06" y2="566.64" stroke="#555" stroke-width="0.7" />
<circle cx="298.83" cy="562.66" r="4.0" fill="#fff" fill-opacity="0.85" stroke="#555" stroke-width="1"/>
<line x1="297.632" y1="561.4559999999999" x2="300.032" y2="561.4559999999999" stroke="#555" stroke-width="0.7" />
<line x1="297.632" y1="563.856" x2="300.032" y2="563.856" stroke="#555" stroke-width="0.7" />
<circle cx="340.66" cy="559.87" r="4.0" fill="#fff" fill-opacity="0.85" stroke="#555" stroke-width="1"/>
<line x1="339.464" y1="558.6719999999999" x2="341.864" y2="558.6719999999999" stroke="#555" stroke-width="0.7" />
<line x1="339.464" y1="561.072" x2="341.864" y2="561.072" stroke="#555" stroke-width="0.7" />
<circle cx="382.50" cy="557.78" r="4.0" fill="#fff" fill-opacity="0.85" stroke="#555" stroke-width="1"/>
<line x1="381.296" y1="556.584" x2="383.69599999999997" y2="556.584" stroke="#555" stroke-width="0.7" />
<line x1="381.296" y1="558.984" x2="383.69599999999997" y2="558.984" stroke="#555" stroke-width="0.7" />
<circle cx="424.33" cy="555.70" r="4.0" fill="#fff" fill-opacity="0.85" stroke="#555" stroke-width="1"/>
<line x1="423.12800000000004" y1="554.496" x2="425.528" y2="554.496" stroke="#555" stroke-width="0.7" />
<line x1="423.12800000000004" y1="556.8960000000001" x2="425.528" y2="556.8960000000001" stroke="#555" stroke-width="0.7" />
<path d="M263.97,570.31 L277.92,557.09 L284.89,540.38 L291.86,523.68 L298.83,500.02 L340.66,480.11 L382.50,467.44 L424.33,461.74" stroke="#f04a4a" stroke-width="0.9" fill="none" stroke-linejoin="round" />
<line x1="263.972" y1="568.224" x2="263.972" y2="572.4" stroke="#f04a4a" stroke-width="0.9" />
<line x1="262.472" y1="568.224" x2="265.472" y2="568.224" stroke="#f04a4a" stroke-width="0.9" />
<line x1="262.472" y1="572.4" x2="265.472" y2="572.4" stroke="#f04a4a" stroke-width="0.9" />
<line x1="277.916" y1="554.304" x2="277.916" y2="559.872" stroke="#f04a4a" stroke-width="0.9" />
<line x1="276.416" y1="554.304" x2="279.416" y2="554.304" stroke="#f04a4a" stroke-width="0.9" />
<line x1="276.416" y1="559.872" x2="279.416" y2="559.872" stroke="#f04a4a" stroke-width="0.9" />
<line x1="284.888" y1="536.208" x2="284.888" y2="544.5600000000001" stroke="#f04a4a" stroke-width="0.9" />
<line x1="283.388" y1="536.208" x2="286.388" y2="536.208" stroke="#f04a4a" stroke-width="0.9" />
<line x1="283.388" y1="544.5600000000001" x2="286.388" y2="544.5600000000001" stroke="#f04a4a" stroke-width="0.9" />
<line x1="291.86" y1="520.896" x2="291.86" y2="526.4639999999999" stroke="#f04a4a" stroke-width="0.9" />
<line x1="290.36" y1="520.896" x2="293.36" y2="520.896" stroke="#f04a4a" stroke-width="0.9" />
<line x1="290.36" y1="526.4639999999999" x2="293.36" y2="526.4639999999999" stroke="#f04a4a" stroke-width="0.9" />
<line x1="298.832" y1="494.448" x2="298.832" y2="505.58399999999995" stroke="#f04a4a" stroke-width="0.9" />
<line x1="297.332" y1="494.448" x2="300.332" y2="494.448" stroke="#f04a4a" stroke-width="0.9" />
<line x1="297.332" y1="505.58399999999995" x2="300.332" y2="505.58399999999995" stroke="#f04a4a" stroke-width="0.9" />
<line x1="340.664" y1="473.1504" x2="340.664" y2="487.07039999999995" stroke="#f04a4a" stroke-width="0.9" />
<line x1="339.164" y1="473.1504" x2="342.164" y2="473.1504" stroke="#f04a4a" stroke-width="0.9" />
<line x1="339.164" y1="487.07039999999995" x2="342.164" y2="487.07039999999995" stroke="#f04a4a" stroke-width="0.9" />
<line x1="382.496" y1="457.6992" x2="382.496" y2="477.18719999999996" stroke="#f04a4a" stroke-width="0.9" />
<line x1="380.996" y1="457.6992" x2="383.996" y2="457.6992" stroke="#f04a4a" stroke-width="0.9" />
<line x1="380.996" y1="477.18719999999996" x2="383.996" y2="477.18719999999996" stroke="#f04a4a" stroke-width="0.9" />
<line x1="424.32800000000003" y1="456.168" x2="424.32800000000003" y2="467.304" stroke="#f04a4a" stroke-width="0.9" />
<line x1="422.82800000000003" y1="456.168" x2="425.82800000000003" y2="456.168" stroke="#f04a4a" stroke-width="0.9" />
<line x1="422.82800000000003" y1="467.304" x2="425.82800000000003" y2="467.304" stroke="#f04a4a" stroke-width="0.9" />
<circle cx="263.97" cy="570.31" r="4.5" fill="#fff" fill-opacity="0.85" stroke="#f04a4a" stroke-width="1"/>
<line x1="262.772" y1="569.112" x2="265.17199999999997" y2="569.112" stroke="#f04a4a" stroke-width="0.7" />
<line x1="262.772" y1="571.5120000000001" x2="265.17199999999997" y2="571.5120000000001" stroke="#f04a4a" stroke-width="0.7" />
<circle cx="277.92" cy="557.09" r="4.5" fill="#fff" fill-opacity="0.85" stroke="#f04a4a" stroke-width="1"/>
<line x1="276.716" y1="555.8879999999999" x2="279.116" y2="555.8879999999999" stroke="#f04a4a" stroke-width="0.7" />
<line x1="276.716" y1="558.288" x2="279.116" y2="558.288" stroke="#f04a4a" stroke-width="0.7" />
<circle cx="284.89" cy="540.38" r="4.5" fill="#fff" fill-opacity="0.85" stroke="#f04a4a" stroke-width="1"/>
<line x1="283.688" y1="539.184" x2="286.08799999999997" y2="539.184" stroke="#f04a4a" stroke-width="0.7" />
<line x1="283.688" y1="541.5840000000001" x2="286.08799999999997" y2="541.5840000000001" stroke="#f04a4a" stroke-width="0.7" />
<circle cx="291.86" cy="523.68" r="4.5" fill="#fff" fill-opacity="0.85" stroke="#f04a4a" stroke-width="1"/>
<line x1="290.66" y1="522.4799999999999" x2="293.06" y2="522.4799999999999" stroke="#f04a4a" stroke-width="0.7" />
<line x1="290.66" y1="524.88" x2="293.06" y2="524.88" stroke="#f04a4a" stroke-width="0.7" />
<circle cx="298.83" cy="500.02" r="4.5" fill="#fff" fill-opacity="0.85" stroke="#f04a4a" stroke-width="1"/>
<line x1="297.632" y1="498.816" x2="300.032" y2="498.816" stroke="#f04a4a" stroke-width="0.7" />
<line x1="297.632" y1="501.21599999999995" x2="300.032" y2="501.21599999999995" stroke="#f04a4a" stroke-width="0.7" />
<circle cx="340.66" cy="480.11" r="4.5" fill="#fff" fill-opacity="0.85" stroke="#f04a4a" stroke-width="1"/>
<line x1="339.464" y1="478.9104" x2="341.864" y2="478.9104" stroke="#f04a4a" stroke-width="0.7" />
<line x1="339.464" y1="481.31039999999996" x2="341.864" y2="481.31039999999996" stroke="#f04a4a" stroke-width="0.7" />
<circle cx="382.50" cy="467.44" r="4.5" fill="#fff" fill-opacity="0.85" stroke="#f04a4a" stroke-width="1"/>
<line x1="381.296" y1="466.2432" x2="383.69599999999997" y2="466.2432" stroke="#f04a4a" stroke-width="0.7" />
<line x1="381.296" y1="468.6432" x2="383.69599999999997" y2="468.6432" stroke="#f04a4a" stroke-width="0.7" />
<circle cx="424.33" cy="461.74" r="4.5" fill="#fff" fill-opacity="0.85" stroke="#f04a4a" stroke-width="1"/>
<line x1="423.12800000000004" y1="460.536" x2="425.528" y2="460.536" stroke="#f04a4a" stroke-width="0.7" />
<line x1="423.12800000000004" y1="462.936" x2="425.528" y2="462.936" stroke="#f04a4a" stroke-width="0.7" />
<line x1="262.0" y1="446.7" x2="277.6" y2="446.7" stroke="#666" stroke-width="0.9" />
<circle cx="269.8" cy="446.7" r="3.7" fill="#fff" stroke="#666" stroke-width="1"/>
<text x="280.0" y="450.2" font-size="12" text-anchor="start" font-weight="normal" fill="#111" textLength="38.2" lengthAdjust="spacingAndGlyphs" >pH=7.4</text>
<line x1="262.0" y1="461.3" x2="277.6" y2="461.3" stroke="#f04a4a" stroke-width="0.9" />
<circle cx="269.8" cy="461.3" r="4.1" fill="#fff" stroke="#f04a4a" stroke-width="1"/>
<text x="281.2" y="464.8" font-size="12" text-anchor="start" font-weight="normal" fill="#111" textLength="38.2" lengthAdjust="spacingAndGlyphs" >pH=5.2</text>
<rect x="490.7" y="434.2" width="171.8" height="138.7" fill="none" stroke="#222" stroke-width="1" />
<line x1="487.7" y1="572.9" x2="490.7" y2="572.9" stroke="#222" stroke-width="0.9" />
<line x1="488.7" y1="555.5625" x2="490.7" y2="555.5625" stroke="#222" stroke-width="0.9" />
<line x1="487.7" y1="538.225" x2="490.7" y2="538.225" stroke="#222" stroke-width="0.9" />
<line x1="488.7" y1="520.8874999999999" x2="490.7" y2="520.8874999999999" stroke="#222" stroke-width="0.9" />
<line x1="487.7" y1="503.54999999999995" x2="490.7" y2="503.54999999999995" stroke="#222" stroke-width="0.9" />
<line x1="488.7" y1="486.2125" x2="490.7" y2="486.2125" stroke="#222" stroke-width="0.9" />
<line x1="487.7" y1="468.875" x2="490.7" y2="468.875" stroke="#222" stroke-width="0.9" />
<line x1="488.7" y1="451.53749999999997" x2="490.7" y2="451.53749999999997" stroke="#222" stroke-width="0.9" />
<line x1="487.7" y1="434.2" x2="490.7" y2="434.2" stroke="#222" stroke-width="0.9" />
<text x="487.3" y="577.1999999999999" font-size="12" text-anchor="end" font-weight="normal" fill="#111" >0</text>
<text x="487.3" y="542.525" font-size="12" text-anchor="end" font-weight="normal" fill="#111" >20</text>
<text x="487.3" y="507.84999999999997" font-size="12" text-anchor="end" font-weight="normal" fill="#111" >40</text>
<text x="487.3" y="473.175" font-size="12" text-anchor="end" font-weight="normal" fill="#111" >60</text>
<text x="487.3" y="438.5" font-size="12" text-anchor="end" font-weight="normal" fill="#111" >80</text>
<line x1="490.7" y1="572.9" x2="490.7" y2="575.9" stroke="#222" stroke-width="0.9" />
<line x1="507.88" y1="572.9" x2="507.88" y2="574.9" stroke="#222" stroke-width="0.9" />
<line x1="525.06" y1="572.9" x2="525.06" y2="575.9" stroke="#222" stroke-width="0.9" />
<line x1="542.24" y1="572.9" x2="542.24" y2="574.9" stroke="#222" stroke-width="0.9" />
<line x1="559.42" y1="572.9" x2="559.42" y2="575.9" stroke="#222" stroke-width="0.9" />
<line x1="576.6" y1="572.9" x2="576.6" y2="574.9" stroke="#222" stroke-width="0.9" />
<line x1="593.78" y1="572.9" x2="593.78" y2="575.9" stroke="#222" stroke-width="0.9" />
<line x1="610.96" y1="572.9" x2="610.96" y2="574.9" stroke="#222" stroke-width="0.9" />
<line x1="628.14" y1="572.9" x2="628.14" y2="575.9" stroke="#222" stroke-width="0.9" />
<line x1="645.3199999999999" y1="572.9" x2="645.3199999999999" y2="574.9" stroke="#222" stroke-width="0.9" />
<line x1="662.5" y1="572.9" x2="662.5" y2="575.9" stroke="#222" stroke-width="0.9" />
<text x="490.7" y="586.1" font-size="12" text-anchor="middle" font-weight="normal" fill="#111" >0</text>
<text x="525.06" y="586.1" font-size="12" text-anchor="middle" font-weight="normal" fill="#111" >10</text>
<text x="559.42" y="586.1" font-size="12" text-anchor="middle" font-weight="normal" fill="#111" >20</text>
<text x="593.78" y="586.1" font-size="12" text-anchor="middle" font-weight="normal" fill="#111" >30</text>
<text x="628.14" y="586.1" font-size="12" text-anchor="middle" font-weight="normal" fill="#111" >40</text>
<text x="662.5" y="586.1" font-size="12" text-anchor="middle" font-weight="normal" fill="#111" >50</text>
<text x="576.6" y="601.0" font-size="12" text-anchor="middle" font-weight="normal" fill="#111" textLength="42.5" lengthAdjust="spacingAndGlyphs" >Time (h)</text>
<path d="M497.57,572.03 L511.32,571.17 L518.19,571.17 L525.06,571.17 L531.93,571.17 L573.16,564.23 L614.40,558.16 L655.63,557.30" stroke="#555" stroke-width="0.9" fill="none" stroke-linejoin="round" />
<line x1="497.572" y1="569.4324999999999" x2="497.572" y2="574.63375" stroke="#555" stroke-width="0.9" />
<line x1="496.072" y1="569.4324999999999" x2="499.072" y2="569.4324999999999" stroke="#555" stroke-width="0.9" />
<line x1="496.072" y1="574.63375" x2="499.072" y2="574.63375" stroke="#555" stroke-width="0.9" />
<line x1="511.316" y1="568.565625" x2="511.316" y2="573.766875" stroke="#555" stroke-width="0.9" />
<line x1="509.816" y1="568.565625" x2="512.816" y2="568.565625" stroke="#555" stroke-width="0.9" />
<line x1="509.816" y1="573.766875" x2="512.816" y2="573.766875" stroke="#555" stroke-width="0.9" />
<line x1="518.188" y1="568.565625" x2="518.188" y2="573.766875" stroke="#555" stroke-width="0.9" />
<line x1="516.688" y1="568.565625" x2="519.688" y2="568.565625" stroke="#555" stroke-width="0.9" />
<line x1="516.688" y1="573.766875" x2="519.688" y2="573.766875" stroke="#555" stroke-width="0.9" />
<line x1="525.06" y1="568.565625" x2="525.06" y2="573.766875" stroke="#555" stroke-width="0.9" />
<line x1="523.56" y1="568.565625" x2="526.56" y2="568.565625" stroke="#555" stroke-width="0.9" />
<line x1="523.56" y1="573.766875" x2="526.56" y2="573.766875" stroke="#555" stroke-width="0.9" />
<line x1="531.932" y1="568.565625" x2="531.932" y2="573.766875" stroke="#555" stroke-width="0.9" />
<line x1="530.432" y1="568.565625" x2="533.432" y2="568.565625" stroke="#555" stroke-width="0.9" />
<line x1="530.432" y1="573.766875" x2="533.432" y2="573.766875" stroke="#555" stroke-width="0.9" />
<line x1="573.164" y1="560.76375" x2="573.164" y2="567.6987499999999" stroke="#555" stroke-width="0.9" />
<line x1="571.664" y1="560.76375" x2="574.664" y2="560.76375" stroke="#555" stroke-width="0.9" />
<line x1="571.664" y1="567.6987499999999" x2="574.664" y2="567.6987499999999" stroke="#555" stroke-width="0.9" />
<line x1="614.396" y1="554.6956250000001" x2="614.396" y2="561.630625" stroke="#555" stroke-width="0.9" />
<line x1="612.896" y1="554.6956250000001" x2="615.896" y2="554.6956250000001" stroke="#555" stroke-width="0.9" />
<line x1="612.896" y1="561.630625" x2="615.896" y2="561.630625" stroke="#555" stroke-width="0.9" />
<line x1="655.628" y1="553.82875" x2="655.628" y2="560.76375" stroke="#555" stroke-width="0.9" />
<line x1="654.128" y1="553.82875" x2="657.128" y2="553.82875" stroke="#555" stroke-width="0.9" />
<line x1="654.128" y1="560.76375" x2="657.128" y2="560.76375" stroke="#555" stroke-width="0.9" />
<circle cx="497.57" cy="572.03" r="4.0" fill="#fff" fill-opacity="0.85" stroke="#555" stroke-width="1"/>
<line x1="496.372" y1="570.8331249999999" x2="498.772" y2="570.8331249999999" stroke="#555" stroke-width="0.7" />
<line x1="496.372" y1="573.233125" x2="498.772" y2="573.233125" stroke="#555" stroke-width="0.7" />
<circle cx="511.32" cy="571.17" r="4.0" fill="#fff" fill-opacity="0.85" stroke="#555" stroke-width="1"/>
<line x1="510.116" y1="569.96625" x2="512.516" y2="569.96625" stroke="#555" stroke-width="0.7" />
<line x1="510.116" y1="572.36625" x2="512.516" y2="572.36625" stroke="#555" stroke-width="0.7" />
<circle cx="518.19" cy="571.17" r="4.0" fill="#fff" fill-opacity="0.85" stroke="#555" stroke-width="1"/>
<line x1="516.9879999999999" y1="569.96625" x2="519.388" y2="569.96625" stroke="#555" stroke-width="0.7" />
<line x1="516.9879999999999" y1="572.36625" x2="519.388" y2="572.36625" stroke="#555" stroke-width="0.7" />
<circle cx="525.06" cy="571.17" r="4.0" fill="#fff" fill-opacity="0.85" stroke="#555" stroke-width="1"/>
<line x1="523.8599999999999" y1="569.96625" x2="526.26" y2="569.96625" stroke="#555" stroke-width="0.7" />
<line x1="523.8599999999999" y1="572.36625" x2="526.26" y2="572.36625" stroke="#555" stroke-width="0.7" />
<circle cx="531.93" cy="571.17" r="4.0" fill="#fff" fill-opacity="0.85" stroke="#555" stroke-width="1"/>
<line x1="530.732" y1="569.96625" x2="533.1320000000001" y2="569.96625" stroke="#555" stroke-width="0.7" />
<line x1="530.732" y1="572.36625" x2="533.1320000000001" y2="572.36625" stroke="#555" stroke-width="0.7" />
<circle cx="573.16" cy="564.23" r="4.0" fill="#fff" fill-opacity="0.85" stroke="#555" stroke-width="1"/>
<line x1="571.9639999999999" y1="563.0312499999999" x2="574.364" y2="563.0312499999999" stroke="#555" stroke-width="0.7" />
<line x1="571.9639999999999" y1="565.43125" x2="574.364" y2="565.43125" stroke="#555" stroke-width="0.7" />
<circle cx="614.40" cy="558.16" r="4.0" fill="#fff" fill-opacity="0.85" stroke="#555" stroke-width="1"/>
<line x1="613.1959999999999" y1="556.963125" x2="615.596" y2="556.963125" stroke="#555" stroke-width="0.7" />
<line x1="613.1959999999999" y1="559.3631250000001" x2="615.596" y2="559.3631250000001" stroke="#555" stroke-width="0.7" />
<circle cx="655.63" cy="557.30" r="4.0" fill="#fff" fill-opacity="0.85" stroke="#555" stroke-width="1"/>
<line x1="654.428" y1="556.0962499999999" x2="656.8280000000001" y2="556.0962499999999" stroke="#555" stroke-width="0.7" />
<line x1="654.428" y1="558.49625" x2="656.8280000000001" y2="558.49625" stroke="#555" stroke-width="0.7" />
<path d="M497.57,571.17 L511.32,562.50 L518.19,545.16 L525.06,538.23 L531.93,531.29 L573.16,494.88 L614.40,458.47 L655.63,455.00" stroke="#f04a4a" stroke-width="0.9" fill="none" stroke-linejoin="round" />
<line x1="497.572" y1="568.565625" x2="497.572" y2="573.766875" stroke="#f04a4a" stroke-width="0.9" />
<line x1="496.072" y1="568.565625" x2="499.072" y2="568.565625" stroke="#f04a4a" stroke-width="0.9" />
<line x1="496.072" y1="573.766875" x2="499.072" y2="573.766875" stroke="#f04a4a" stroke-width="0.9" />
<line x1="511.316" y1="559.8968749999999" x2="511.316" y2="565.098125" stroke="#f04a4a" stroke-width="0.9" />
<line x1="509.816" y1="559.8968749999999" x2="512.816" y2="559.8968749999999" stroke="#f04a4a" stroke-width="0.9" />
<line x1="509.816" y1="565.098125" x2="512.816" y2="565.098125" stroke="#f04a4a" stroke-width="0.9" />
<line x1="518.188" y1="541.6925" x2="518.188" y2="548.6274999999999" stroke="#f04a4a" stroke-width="0.9" />
<line x1="516.688" y1="541.6925" x2="519.688" y2="541.6925" stroke="#f04a4a" stroke-width="0.9" />
<line x1="516.688" y1="548.6274999999999" x2="519.688" y2="548.6274999999999" stroke="#f04a4a" stroke-width="0.9" />
<line x1="525.06" y1="534.7575" x2="525.06" y2="541.6925" stroke="#f04a4a" stroke-width="0.9" />
<line x1="523.56" y1="534.7575" x2="526.56" y2="534.7575" stroke="#f04a4a" stroke-width="0.9" />
<line x1="523.56" y1="541.6925" x2="526.56" y2="541.6925" stroke="#f04a4a" stroke-width="0.9" />
<line x1="531.932" y1="528.6893749999999" x2="531.932" y2="533.890625" stroke="#f04a4a" stroke-width="0.9" />
<line x1="530.432" y1="528.6893749999999" x2="533.432" y2="528.6893749999999" stroke="#f04a4a" stroke-width="0.9" />
<line x1="530.432" y1="533.890625" x2="533.432" y2="533.890625" stroke="#f04a4a" stroke-width="0.9" />
<line x1="573.164" y1="489.68" x2="573.164" y2="500.08250000000004" stroke="#f04a4a" stroke-width="0.9" />
<line x1="571.664" y1="489.68" x2="574.664" y2="489.68" stroke="#f04a4a" stroke-width="0.9" />
<line x1="571.664" y1="500.08250000000004" x2="574.664" y2="500.08250000000004" stroke="#f04a4a" stroke-width="0.9" />
<line x1="614.396" y1="453.27124999999995" x2="614.396" y2="463.67375" stroke="#f04a4a" stroke-width="0.9" />
<line x1="612.896" y1="453.27124999999995" x2="615.896" y2="453.27124999999995" stroke="#f04a4a" stroke-width="0.9" />
<line x1="612.896" y1="463.67375" x2="615.896" y2="463.67375" stroke="#f04a4a" stroke-width="0.9" />
<line x1="655.628" y1="451.5375" x2="655.628" y2="458.47249999999997" stroke="#f04a4a" stroke-width="0.9" />
<line x1="654.128" y1="451.5375" x2="657.128" y2="451.5375" stroke="#f04a4a" stroke-width="0.9" />
<line x1="654.128" y1="458.47249999999997" x2="657.128" y2="458.47249999999997" stroke="#f04a4a" stroke-width="0.9" />
<circle cx="497.57" cy="571.17" r="4.5" fill="#fff" fill-opacity="0.85" stroke="#f04a4a" stroke-width="1"/>
<line x1="496.372" y1="569.96625" x2="498.772" y2="569.96625" stroke="#f04a4a" stroke-width="0.7" />
<line x1="496.372" y1="572.36625" x2="498.772" y2="572.36625" stroke="#f04a4a" stroke-width="0.7" />
<circle cx="511.32" cy="562.50" r="4.5" fill="#fff" fill-opacity="0.85" stroke="#f04a4a" stroke-width="1"/>
<line x1="510.116" y1="561.2974999999999" x2="512.516" y2="561.2974999999999" stroke="#f04a4a" stroke-width="0.7" />
<line x1="510.116" y1="563.6975" x2="512.516" y2="563.6975" stroke="#f04a4a" stroke-width="0.7" />
<circle cx="518.19" cy="545.16" r="4.5" fill="#fff" fill-opacity="0.85" stroke="#f04a4a" stroke-width="1"/>
<line x1="516.9879999999999" y1="543.9599999999999" x2="519.388" y2="543.9599999999999" stroke="#f04a4a" stroke-width="0.7" />
<line x1="516.9879999999999" y1="546.36" x2="519.388" y2="546.36" stroke="#f04a4a" stroke-width="0.7" />
<circle cx="525.06" cy="538.23" r="4.5" fill="#fff" fill-opacity="0.85" stroke="#f04a4a" stroke-width="1"/>
<line x1="523.8599999999999" y1="537.025" x2="526.26" y2="537.025" stroke="#f04a4a" stroke-width="0.7" />
<line x1="523.8599999999999" y1="539.4250000000001" x2="526.26" y2="539.4250000000001" stroke="#f04a4a" stroke-width="0.7" />
<circle cx="531.93" cy="531.29" r="4.5" fill="#fff" fill-opacity="0.85" stroke="#f04a4a" stroke-width="1"/>
<line x1="530.732" y1="530.0899999999999" x2="533.1320000000001" y2="530.0899999999999" stroke="#f04a4a" stroke-width="0.7" />
<line x1="530.732" y1="532.49" x2="533.1320000000001" y2="532.49" stroke="#f04a4a" stroke-width="0.7" />
<circle cx="573.16" cy="494.88" r="4.5" fill="#fff" fill-opacity="0.85" stroke="#f04a4a" stroke-width="1"/>
<line x1="571.9639999999999" y1="493.68125000000003" x2="574.364" y2="493.68125000000003" stroke="#f04a4a" stroke-width="0.7" />
<line x1="571.9639999999999" y1="496.08125" x2="574.364" y2="496.08125" stroke="#f04a4a" stroke-width="0.7" />
<circle cx="614.40" cy="458.47" r="4.5" fill="#fff" fill-opacity="0.85" stroke="#f04a4a" stroke-width="1"/>
<line x1="613.1959999999999" y1="457.2725" x2="615.596" y2="457.2725" stroke="#f04a4a" stroke-width="0.7" />
<line x1="613.1959999999999" y1="459.67249999999996" x2="615.596" y2="459.67249999999996" stroke="#f04a4a" stroke-width="0.7" />
<circle cx="655.63" cy="455.00" r="4.5" fill="#fff" fill-opacity="0.85" stroke="#f04a4a" stroke-width="1"/>
<line x1="654.428" y1="453.805" x2="656.8280000000001" y2="453.805" stroke="#f04a4a" stroke-width="0.7" />
<line x1="654.428" y1="456.205" x2="656.8280000000001" y2="456.205" stroke="#f04a4a" stroke-width="0.7" />
<line x1="496.3" y1="448.4" x2="511.90000000000003" y2="448.4" stroke="#666" stroke-width="0.9" />
<circle cx="504.1" cy="448.4" r="3.7" fill="#fff" stroke="#666" stroke-width="1"/>
<text x="514.3000000000001" y="451.9" font-size="12" text-anchor="start" font-weight="normal" fill="#111" textLength="38.2" lengthAdjust="spacingAndGlyphs" >pH=7.4</text>
<line x1="496.3" y1="462.29999999999995" x2="511.90000000000003" y2="462.29999999999995" stroke="#f04a4a" stroke-width="0.9" />
<circle cx="504.1" cy="462.29999999999995" r="4.1" fill="#fff" stroke="#f04a4a" stroke-width="1"/>
<text x="515.5" y="465.79999999999995" font-size="12" text-anchor="start" font-weight="normal" fill="#111" textLength="38.2" lengthAdjust="spacingAndGlyphs" >pH=5.2</text>
<text x="228" y="503" font-size="11.6" fill="#111" text-anchor="middle" transform="rotate(-90 228 503)">Zn<tspan font-size="8.5" dy="-4.5">2+</tspan><tspan dy="4.5"> release (%)</tspan></text>
<text x="470.3" y="503.6" font-size="12" text-anchor="middle" font-weight="normal" fill="#111" textLength="87" lengthAdjust="spacingAndGlyphs" transform="rotate(-90 470.3 503.6)" >DHA release (%)</text>
</svg></body></html>
